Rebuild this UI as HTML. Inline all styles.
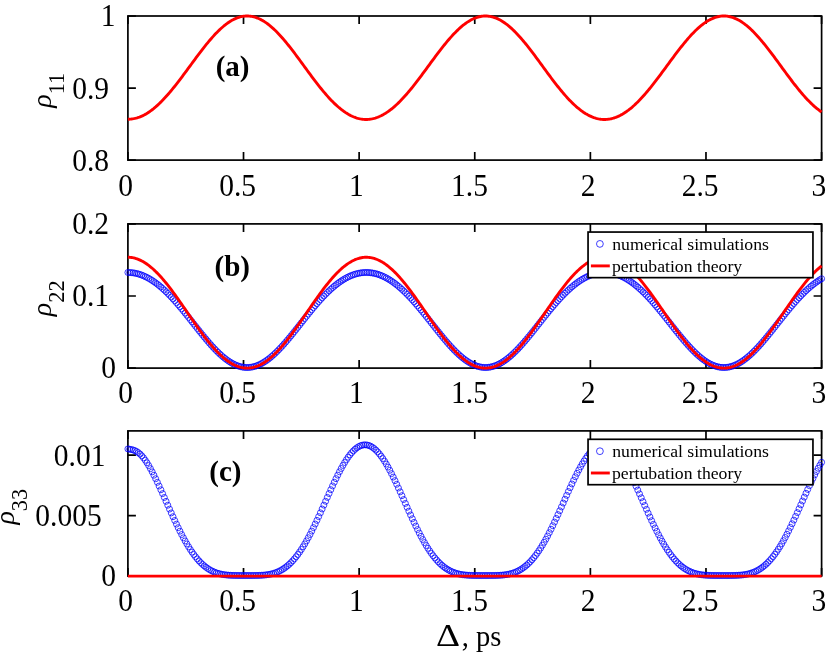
<!DOCTYPE html><html><head><meta charset="utf-8"><style>html,body{margin:0;padding:0;background:#fff;overflow:hidden}svg{display:block}</style></head><body><svg width="827" height="653" viewBox="0 0 827 653">
<rect width="827" height="653" fill="#fff"/>
<rect x="127.9" y="16.0" width="693.70" height="144.10" fill="none" stroke="#000" stroke-width="1.7"/>
<path d="M127.90 160.1v-8.0M127.90 16.0v8.0M243.52 160.1v-8.0M243.52 16.0v8.0M359.13 160.1v-8.0M359.13 16.0v8.0M474.75 160.1v-8.0M474.75 16.0v8.0M590.37 160.1v-8.0M590.37 16.0v8.0M705.98 160.1v-8.0M705.98 16.0v8.0M821.60 160.1v-8.0M821.60 16.0v8.0M127.9 160.10h8.0M821.6 160.10h-8.0M127.9 88.05h8.0M821.6 88.05h-8.0M127.9 16.00h8.0M821.6 16.00h-8.0" stroke="#000" stroke-width="1.7" fill="none"/>
<rect x="127.9" y="223.9" width="693.70" height="144.20" fill="none" stroke="#000" stroke-width="1.7"/>
<path d="M127.90 368.1v-8.0M127.90 223.9v8.0M243.52 368.1v-8.0M243.52 223.9v8.0M359.13 368.1v-8.0M359.13 223.9v8.0M474.75 368.1v-8.0M474.75 223.9v8.0M590.37 368.1v-8.0M590.37 223.9v8.0M705.98 368.1v-8.0M705.98 223.9v8.0M821.60 368.1v-8.0M821.60 223.9v8.0M127.9 368.10h8.0M821.6 368.10h-8.0M127.9 296.00h8.0M821.6 296.00h-8.0M127.9 223.90h8.0M821.6 223.90h-8.0" stroke="#000" stroke-width="1.7" fill="none"/>
<rect x="127.9" y="430.9" width="693.70" height="145.20" fill="none" stroke="#000" stroke-width="1.7"/>
<path d="M127.90 576.1v-8.0M127.90 430.9v8.0M243.52 576.1v-8.0M243.52 430.9v8.0M359.13 576.1v-8.0M359.13 430.9v8.0M474.75 576.1v-8.0M474.75 430.9v8.0M590.37 576.1v-8.0M590.37 430.9v8.0M705.98 576.1v-8.0M705.98 430.9v8.0M821.60 576.1v-8.0M821.60 430.9v8.0M127.9 576.10h8.0M821.6 576.10h-8.0M127.9 515.60h8.0M821.6 515.60h-8.0M127.9 455.10h8.0M821.6 455.10h-8.0" stroke="#000" stroke-width="1.7" fill="none"/>
<polyline points="127.90,119.22 129.06,119.19 130.21,119.12 131.37,119.02 132.52,118.87 133.68,118.68 134.84,118.45 135.99,118.17 137.15,117.85 138.31,117.49 139.46,117.08 140.62,116.63 141.77,116.13 142.93,115.59 144.09,115.00 145.24,114.37 146.40,113.70 147.55,112.99 148.71,112.23 149.87,111.44 151.02,110.60 152.18,109.73 153.34,108.82 154.49,107.87 155.65,106.89 156.80,105.87 157.96,104.82 159.12,103.73 160.27,102.62 161.43,101.47 162.59,100.28 163.74,99.07 164.90,97.83 166.05,96.57 167.21,95.27 168.37,93.95 169.52,92.61 170.68,91.24 171.83,89.85 172.99,88.43 174.15,87.00 175.30,85.55 176.46,84.08 177.62,82.60 178.77,81.10 179.93,79.58 181.08,78.06 182.24,76.52 183.40,74.97 184.55,73.42 185.71,71.85 186.86,70.28 188.02,68.71 189.18,67.14 190.33,65.56 191.49,63.99 192.65,62.41 193.80,60.84 194.96,59.28 196.11,57.72 197.27,56.17 198.43,54.62 199.58,53.09 200.74,51.57 201.89,50.07 203.05,48.58 204.21,47.10 205.36,45.65 206.52,44.21 207.68,42.80 208.83,41.41 209.99,40.04 211.14,38.70 212.30,37.38 213.46,36.10 214.61,34.84 215.77,33.61 216.92,32.42 218.08,31.26 219.24,30.13 220.39,29.04 221.55,27.98 222.71,26.97 223.86,25.99 225.02,25.06 226.17,24.16 227.33,23.31 228.49,22.50 229.64,21.73 230.80,21.01 231.96,20.34 233.11,19.71 234.27,19.13 235.42,18.60 236.58,18.11 237.74,17.68 238.89,17.29 240.05,16.95 241.20,16.67 242.36,16.43 243.52,16.25 244.67,16.11 245.83,16.03 246.99,16.00 248.14,16.02 249.30,16.09 250.45,16.22 251.61,16.39 252.77,16.62 253.92,16.89 255.08,17.22 256.23,17.60 257.39,18.02 258.55,18.50 259.70,19.02 260.86,19.60 262.02,20.22 263.17,20.88 264.33,21.60 265.48,22.36 266.64,23.16 267.80,24.01 268.95,24.90 270.11,25.83 271.26,26.80 272.42,27.81 273.58,28.86 274.73,29.95 275.89,31.08 277.05,32.24 278.20,33.43 279.36,34.66 280.51,35.92 281.67,37.20 282.83,38.52 283.98,39.87 285.14,41.24 286.29,42.63 287.45,44.05 288.61,45.49 289.76,46.95 290.92,48.43 292.08,49.92 293.23,51.43 294.39,52.96 295.54,54.50 296.70,56.05 297.86,57.61 299.01,59.17 300.17,60.75 301.33,62.32 302.48,63.91 303.64,65.49 304.79,67.07 305.95,68.66 307.11,70.24 308.26,71.82 309.42,73.39 310.57,74.95 311.73,76.51 312.89,78.05 314.04,79.59 315.20,81.11 316.36,82.62 317.51,84.11 318.67,85.59 319.82,87.05 320.98,88.49 322.14,89.91 323.29,91.30 324.45,92.68 325.60,94.03 326.76,95.35 327.92,96.65 329.07,97.93 330.23,99.17 331.39,100.38 332.54,101.57 333.70,102.72 334.85,103.84 336.01,104.93 337.17,105.98 338.32,107.00 339.48,107.98 340.63,108.93 341.79,109.84 342.95,110.71 344.10,111.55 345.26,112.34 346.42,113.10 347.57,113.81 348.73,114.49 349.88,115.12 351.04,115.71 352.20,116.26 353.35,116.77 354.51,117.23 355.66,117.65 356.82,118.03 357.98,118.36 359.13,118.65 360.29,118.90 361.45,119.10 362.60,119.26 363.76,119.37 364.91,119.44 366.07,119.46 367.23,119.44 368.38,119.37 369.54,119.26 370.70,119.11 371.85,118.91 373.01,118.66 374.16,118.38 375.32,118.04 376.48,117.67 377.63,117.25 378.79,116.79 379.94,116.29 381.10,115.74 382.26,115.15 383.41,114.52 384.57,113.85 385.73,113.14 386.88,112.39 388.04,111.60 389.19,110.78 390.35,109.91 391.51,109.01 392.66,108.07 393.82,107.09 394.97,106.08 396.13,105.03 397.29,103.95 398.44,102.84 399.60,101.70 400.76,100.52 401.91,99.32 403.07,98.08 404.22,96.82 405.38,95.53 406.54,94.22 407.69,92.88 408.85,91.51 410.00,90.13 411.16,88.72 412.32,87.29 413.47,85.84 414.63,84.38 415.79,82.89 416.94,81.40 418.10,79.89 419.25,78.36 420.41,76.83 421.57,75.28 422.72,73.73 423.88,72.17 425.03,70.60 426.19,69.03 427.35,67.45 428.50,65.88 429.66,64.30 430.82,62.73 431.97,61.16 433.13,59.59 434.28,58.03 435.44,56.48 436.60,54.93 437.75,53.40 438.91,51.88 440.07,50.37 441.22,48.88 442.38,47.40 443.53,45.94 444.69,44.50 445.85,43.08 447.00,41.68 448.16,40.31 449.31,38.96 450.47,37.64 451.63,36.35 452.78,35.09 453.94,33.85 455.10,32.65 456.25,31.48 457.41,30.35 458.56,29.25 459.72,28.19 460.88,27.17 462.03,26.18 463.19,25.24 464.34,24.34 465.50,23.48 466.66,22.66 467.81,21.88 468.97,21.15 470.13,20.47 471.28,19.83 472.44,19.24 473.59,18.70 474.75,18.20 475.91,17.76 477.06,17.36 478.22,17.02 479.37,16.72 480.53,16.47 481.69,16.28 482.84,16.14 484.00,16.04 485.16,16.00 486.31,16.01 487.47,16.07 488.62,16.19 489.78,16.35 490.94,16.57 492.09,16.83 493.25,17.15 494.40,17.52 495.56,17.93 496.72,18.40 497.87,18.91 499.03,19.48 500.19,20.09 501.34,20.75 502.50,21.45 503.65,22.20 504.81,23.00 505.97,23.83 507.12,24.72 508.28,25.64 509.44,26.60 510.59,27.61 511.75,28.65 512.90,29.73 514.06,30.85 515.22,32.00 516.37,33.19 517.53,34.41 518.68,35.66 519.84,36.94 521.00,38.26 522.15,39.60 523.31,40.96 524.47,42.35 525.62,43.76 526.78,45.20 527.93,46.66 529.09,48.13 530.25,49.62 531.40,51.13 532.56,52.65 533.71,54.19 534.87,55.74 536.03,57.29 537.18,58.86 538.34,60.43 539.50,62.01 540.65,63.59 541.81,65.17 542.96,66.76 544.12,68.34 545.28,69.92 546.43,71.50 547.59,73.07 548.74,74.64 549.90,76.20 551.06,77.75 552.21,79.28 553.37,80.81 554.53,82.32 555.68,83.81 556.84,85.29 557.99,86.76 559.15,88.20 560.31,89.62 561.46,91.03 562.62,92.40 563.77,93.76 564.93,95.09 566.09,96.40 567.24,97.67 568.40,98.92 569.56,100.14 570.71,101.33 571.87,102.49 573.02,103.62 574.18,104.71 575.34,105.77 576.49,106.80 577.65,107.79 578.81,108.74 579.96,109.66 581.12,110.54 582.27,111.38 583.43,112.19 584.59,112.95 585.74,113.67 586.90,114.35 588.05,115.00 589.21,115.60 590.37,116.15 591.52,116.67 592.68,117.14 593.84,117.57 594.99,117.96 596.15,118.30 597.30,118.60 598.46,118.85 599.62,119.06 600.77,119.23 601.93,119.35 603.08,119.43 604.24,119.46 605.40,119.45 606.55,119.39 607.71,119.29 608.87,119.14 610.02,118.95 611.18,118.72 612.33,118.44 613.49,118.11 614.65,117.75 615.80,117.34 616.96,116.89 618.11,116.39 619.27,115.85 620.43,115.27 621.58,114.65 622.74,113.99 623.90,113.29 625.05,112.55 626.21,111.77 627.36,110.94 628.52,110.09 629.68,109.19 630.83,108.26 631.99,107.29 633.14,106.28 634.30,105.25 635.46,104.17 636.61,103.07 637.77,101.93 638.93,100.76 640.08,99.56 641.24,98.33 642.39,97.08 643.55,95.79 644.71,94.48 645.86,93.15 647.02,91.79 648.17,90.41 649.33,89.00 650.49,87.58 651.64,86.13 652.80,84.67 653.96,83.19 655.11,81.70 656.27,80.19 657.42,78.67 658.58,77.13 659.74,75.59 660.89,74.04 662.05,72.48 663.21,70.91 664.36,69.34 665.52,67.77 666.67,66.19 667.83,64.62 668.99,63.04 670.14,61.47 671.30,59.90 672.45,58.34 673.61,56.79 674.77,55.24 675.92,53.70 677.08,52.18 678.24,50.67 679.39,49.17 680.55,47.69 681.70,46.23 682.86,44.79 684.02,43.36 685.17,41.96 686.33,40.58 687.48,39.23 688.64,37.91 689.80,36.61 690.95,35.34 692.11,34.10 693.27,32.89 694.42,31.72 695.58,30.58 696.73,29.47 697.89,28.40 699.05,27.37 700.20,26.38 701.36,25.43 702.51,24.51 703.67,23.64 704.83,22.82 705.98,22.03 707.14,21.30 708.30,20.60 709.45,19.96 710.61,19.36 711.76,18.80 712.92,18.30 714.08,17.84 715.23,17.44 716.39,17.08 717.54,16.78 718.70,16.52 719.86,16.31 721.01,16.16 722.17,16.06 723.33,16.01 724.48,16.01 725.64,16.06 726.79,16.16 727.95,16.31 729.11,16.52 730.26,16.78 731.42,17.08 732.58,17.44 733.73,17.85 734.89,18.30 736.04,18.81 737.20,19.36 738.36,19.96 739.51,20.61 740.67,21.31 741.82,22.05 742.98,22.83 744.14,23.66 745.29,24.54 746.45,25.45 747.61,26.41 748.76,27.40 749.92,28.44 751.07,29.51 752.23,30.62 753.39,31.77 754.54,32.95 755.70,34.16 756.85,35.41 758.01,36.69 759.17,37.99 760.32,39.33 761.48,40.69 762.64,42.07 763.79,43.48 764.95,44.91 766.10,46.36 767.26,47.83 768.42,49.32 769.57,50.83 770.73,52.35 771.88,53.88 773.04,55.43 774.20,56.98 775.35,58.55 776.51,60.12 777.67,61.69 778.82,63.27 779.98,64.86 781.13,66.44 782.29,68.03 783.45,69.61 784.60,71.19 785.76,72.76 786.92,74.33 788.07,75.89 789.23,77.44 790.38,78.98 791.54,80.50 792.70,82.02 793.85,83.52 795.01,85.00 796.16,86.47 797.32,87.91 798.48,89.34 799.63,90.75 800.79,92.13 801.95,93.49 803.10,94.83 804.26,96.14 805.41,97.42 806.57,98.67 807.73,99.90 808.88,101.10 810.04,102.26 811.19,103.40 812.35,104.50 813.51,105.56 814.66,106.60 815.82,107.59 816.98,108.56 818.13,109.48 819.29,110.37 820.44,111.22 821.60,112.03" fill="none" stroke="#f00" stroke-width="2.9" stroke-linejoin="round"/>
<path d="M130.90 272.47a3.0 3.0 0 1 0 -6.0 0a3.0 3.0 0 1 0 6.0 0M132.63 272.51a3.0 3.0 0 1 0 -6.0 0a3.0 3.0 0 1 0 6.0 0M134.37 272.64a3.0 3.0 0 1 0 -6.0 0a3.0 3.0 0 1 0 6.0 0M136.10 272.84a3.0 3.0 0 1 0 -6.0 0a3.0 3.0 0 1 0 6.0 0M137.84 273.13a3.0 3.0 0 1 0 -6.0 0a3.0 3.0 0 1 0 6.0 0M139.57 273.50a3.0 3.0 0 1 0 -6.0 0a3.0 3.0 0 1 0 6.0 0M141.31 273.96a3.0 3.0 0 1 0 -6.0 0a3.0 3.0 0 1 0 6.0 0M143.04 274.49a3.0 3.0 0 1 0 -6.0 0a3.0 3.0 0 1 0 6.0 0M144.77 275.11a3.0 3.0 0 1 0 -6.0 0a3.0 3.0 0 1 0 6.0 0M146.51 275.80a3.0 3.0 0 1 0 -6.0 0a3.0 3.0 0 1 0 6.0 0M148.24 276.58a3.0 3.0 0 1 0 -6.0 0a3.0 3.0 0 1 0 6.0 0M149.98 277.44a3.0 3.0 0 1 0 -6.0 0a3.0 3.0 0 1 0 6.0 0M151.71 278.37a3.0 3.0 0 1 0 -6.0 0a3.0 3.0 0 1 0 6.0 0M153.45 279.38a3.0 3.0 0 1 0 -6.0 0a3.0 3.0 0 1 0 6.0 0M155.18 280.47a3.0 3.0 0 1 0 -6.0 0a3.0 3.0 0 1 0 6.0 0M156.91 281.63a3.0 3.0 0 1 0 -6.0 0a3.0 3.0 0 1 0 6.0 0M158.65 282.86a3.0 3.0 0 1 0 -6.0 0a3.0 3.0 0 1 0 6.0 0M160.38 284.17a3.0 3.0 0 1 0 -6.0 0a3.0 3.0 0 1 0 6.0 0M162.12 285.54a3.0 3.0 0 1 0 -6.0 0a3.0 3.0 0 1 0 6.0 0M163.85 286.99a3.0 3.0 0 1 0 -6.0 0a3.0 3.0 0 1 0 6.0 0M165.59 288.50a3.0 3.0 0 1 0 -6.0 0a3.0 3.0 0 1 0 6.0 0M167.32 290.08a3.0 3.0 0 1 0 -6.0 0a3.0 3.0 0 1 0 6.0 0M169.05 291.72a3.0 3.0 0 1 0 -6.0 0a3.0 3.0 0 1 0 6.0 0M170.79 293.42a3.0 3.0 0 1 0 -6.0 0a3.0 3.0 0 1 0 6.0 0M172.52 295.18a3.0 3.0 0 1 0 -6.0 0a3.0 3.0 0 1 0 6.0 0M174.26 296.99a3.0 3.0 0 1 0 -6.0 0a3.0 3.0 0 1 0 6.0 0M175.99 298.86a3.0 3.0 0 1 0 -6.0 0a3.0 3.0 0 1 0 6.0 0M177.72 300.77a3.0 3.0 0 1 0 -6.0 0a3.0 3.0 0 1 0 6.0 0M179.46 302.73a3.0 3.0 0 1 0 -6.0 0a3.0 3.0 0 1 0 6.0 0M181.19 304.73a3.0 3.0 0 1 0 -6.0 0a3.0 3.0 0 1 0 6.0 0M182.93 306.77a3.0 3.0 0 1 0 -6.0 0a3.0 3.0 0 1 0 6.0 0M184.66 308.85a3.0 3.0 0 1 0 -6.0 0a3.0 3.0 0 1 0 6.0 0M186.40 310.95a3.0 3.0 0 1 0 -6.0 0a3.0 3.0 0 1 0 6.0 0M188.13 313.09a3.0 3.0 0 1 0 -6.0 0a3.0 3.0 0 1 0 6.0 0M189.86 315.24a3.0 3.0 0 1 0 -6.0 0a3.0 3.0 0 1 0 6.0 0M191.60 317.42a3.0 3.0 0 1 0 -6.0 0a3.0 3.0 0 1 0 6.0 0M193.33 319.60a3.0 3.0 0 1 0 -6.0 0a3.0 3.0 0 1 0 6.0 0M195.07 321.80a3.0 3.0 0 1 0 -6.0 0a3.0 3.0 0 1 0 6.0 0M196.80 324.00a3.0 3.0 0 1 0 -6.0 0a3.0 3.0 0 1 0 6.0 0M198.54 326.20a3.0 3.0 0 1 0 -6.0 0a3.0 3.0 0 1 0 6.0 0M200.27 328.39a3.0 3.0 0 1 0 -6.0 0a3.0 3.0 0 1 0 6.0 0M202.00 330.58a3.0 3.0 0 1 0 -6.0 0a3.0 3.0 0 1 0 6.0 0M203.74 332.74a3.0 3.0 0 1 0 -6.0 0a3.0 3.0 0 1 0 6.0 0M205.47 334.89a3.0 3.0 0 1 0 -6.0 0a3.0 3.0 0 1 0 6.0 0M207.21 337.01a3.0 3.0 0 1 0 -6.0 0a3.0 3.0 0 1 0 6.0 0M208.94 339.09a3.0 3.0 0 1 0 -6.0 0a3.0 3.0 0 1 0 6.0 0M210.68 341.14a3.0 3.0 0 1 0 -6.0 0a3.0 3.0 0 1 0 6.0 0M212.41 343.15a3.0 3.0 0 1 0 -6.0 0a3.0 3.0 0 1 0 6.0 0M214.14 345.11a3.0 3.0 0 1 0 -6.0 0a3.0 3.0 0 1 0 6.0 0M215.88 347.02a3.0 3.0 0 1 0 -6.0 0a3.0 3.0 0 1 0 6.0 0M217.61 348.87a3.0 3.0 0 1 0 -6.0 0a3.0 3.0 0 1 0 6.0 0M219.35 350.66a3.0 3.0 0 1 0 -6.0 0a3.0 3.0 0 1 0 6.0 0M221.08 352.37a3.0 3.0 0 1 0 -6.0 0a3.0 3.0 0 1 0 6.0 0M222.82 354.02a3.0 3.0 0 1 0 -6.0 0a3.0 3.0 0 1 0 6.0 0M224.55 355.59a3.0 3.0 0 1 0 -6.0 0a3.0 3.0 0 1 0 6.0 0M226.28 357.08a3.0 3.0 0 1 0 -6.0 0a3.0 3.0 0 1 0 6.0 0M228.02 358.48a3.0 3.0 0 1 0 -6.0 0a3.0 3.0 0 1 0 6.0 0M229.75 359.80a3.0 3.0 0 1 0 -6.0 0a3.0 3.0 0 1 0 6.0 0M231.49 361.02a3.0 3.0 0 1 0 -6.0 0a3.0 3.0 0 1 0 6.0 0M233.22 362.14a3.0 3.0 0 1 0 -6.0 0a3.0 3.0 0 1 0 6.0 0M234.96 363.17a3.0 3.0 0 1 0 -6.0 0a3.0 3.0 0 1 0 6.0 0M236.69 364.09a3.0 3.0 0 1 0 -6.0 0a3.0 3.0 0 1 0 6.0 0M238.42 364.91a3.0 3.0 0 1 0 -6.0 0a3.0 3.0 0 1 0 6.0 0M240.16 365.61a3.0 3.0 0 1 0 -6.0 0a3.0 3.0 0 1 0 6.0 0M241.89 366.21a3.0 3.0 0 1 0 -6.0 0a3.0 3.0 0 1 0 6.0 0M243.63 366.70a3.0 3.0 0 1 0 -6.0 0a3.0 3.0 0 1 0 6.0 0M245.36 367.07a3.0 3.0 0 1 0 -6.0 0a3.0 3.0 0 1 0 6.0 0M247.09 367.33a3.0 3.0 0 1 0 -6.0 0a3.0 3.0 0 1 0 6.0 0M248.83 367.47a3.0 3.0 0 1 0 -6.0 0a3.0 3.0 0 1 0 6.0 0M250.56 367.50a3.0 3.0 0 1 0 -6.0 0a3.0 3.0 0 1 0 6.0 0M252.30 367.41a3.0 3.0 0 1 0 -6.0 0a3.0 3.0 0 1 0 6.0 0M254.03 367.20a3.0 3.0 0 1 0 -6.0 0a3.0 3.0 0 1 0 6.0 0M255.77 366.88a3.0 3.0 0 1 0 -6.0 0a3.0 3.0 0 1 0 6.0 0M257.50 366.45a3.0 3.0 0 1 0 -6.0 0a3.0 3.0 0 1 0 6.0 0M259.23 365.91a3.0 3.0 0 1 0 -6.0 0a3.0 3.0 0 1 0 6.0 0M260.97 365.25a3.0 3.0 0 1 0 -6.0 0a3.0 3.0 0 1 0 6.0 0M262.70 364.48a3.0 3.0 0 1 0 -6.0 0a3.0 3.0 0 1 0 6.0 0M264.44 363.61a3.0 3.0 0 1 0 -6.0 0a3.0 3.0 0 1 0 6.0 0M266.17 362.63a3.0 3.0 0 1 0 -6.0 0a3.0 3.0 0 1 0 6.0 0M267.91 361.56a3.0 3.0 0 1 0 -6.0 0a3.0 3.0 0 1 0 6.0 0M269.64 360.38a3.0 3.0 0 1 0 -6.0 0a3.0 3.0 0 1 0 6.0 0M271.37 359.11a3.0 3.0 0 1 0 -6.0 0a3.0 3.0 0 1 0 6.0 0M273.11 357.75a3.0 3.0 0 1 0 -6.0 0a3.0 3.0 0 1 0 6.0 0M274.84 356.30a3.0 3.0 0 1 0 -6.0 0a3.0 3.0 0 1 0 6.0 0M276.58 354.76a3.0 3.0 0 1 0 -6.0 0a3.0 3.0 0 1 0 6.0 0M278.31 353.15a3.0 3.0 0 1 0 -6.0 0a3.0 3.0 0 1 0 6.0 0M280.05 351.47a3.0 3.0 0 1 0 -6.0 0a3.0 3.0 0 1 0 6.0 0M281.78 349.71a3.0 3.0 0 1 0 -6.0 0a3.0 3.0 0 1 0 6.0 0M283.51 347.89a3.0 3.0 0 1 0 -6.0 0a3.0 3.0 0 1 0 6.0 0M285.25 346.01a3.0 3.0 0 1 0 -6.0 0a3.0 3.0 0 1 0 6.0 0M286.98 344.07a3.0 3.0 0 1 0 -6.0 0a3.0 3.0 0 1 0 6.0 0M288.72 342.09a3.0 3.0 0 1 0 -6.0 0a3.0 3.0 0 1 0 6.0 0M290.45 340.06a3.0 3.0 0 1 0 -6.0 0a3.0 3.0 0 1 0 6.0 0M292.19 337.99a3.0 3.0 0 1 0 -6.0 0a3.0 3.0 0 1 0 6.0 0M293.92 335.88a3.0 3.0 0 1 0 -6.0 0a3.0 3.0 0 1 0 6.0 0M295.65 333.75a3.0 3.0 0 1 0 -6.0 0a3.0 3.0 0 1 0 6.0 0M297.39 331.59a3.0 3.0 0 1 0 -6.0 0a3.0 3.0 0 1 0 6.0 0M299.12 329.41a3.0 3.0 0 1 0 -6.0 0a3.0 3.0 0 1 0 6.0 0M300.86 327.22a3.0 3.0 0 1 0 -6.0 0a3.0 3.0 0 1 0 6.0 0M302.59 325.03a3.0 3.0 0 1 0 -6.0 0a3.0 3.0 0 1 0 6.0 0M304.33 322.83a3.0 3.0 0 1 0 -6.0 0a3.0 3.0 0 1 0 6.0 0M306.06 320.63a3.0 3.0 0 1 0 -6.0 0a3.0 3.0 0 1 0 6.0 0M307.79 318.44a3.0 3.0 0 1 0 -6.0 0a3.0 3.0 0 1 0 6.0 0M309.53 316.26a3.0 3.0 0 1 0 -6.0 0a3.0 3.0 0 1 0 6.0 0M311.26 314.09a3.0 3.0 0 1 0 -6.0 0a3.0 3.0 0 1 0 6.0 0M313.00 311.95a3.0 3.0 0 1 0 -6.0 0a3.0 3.0 0 1 0 6.0 0M314.73 309.83a3.0 3.0 0 1 0 -6.0 0a3.0 3.0 0 1 0 6.0 0M316.46 307.74a3.0 3.0 0 1 0 -6.0 0a3.0 3.0 0 1 0 6.0 0M318.20 305.68a3.0 3.0 0 1 0 -6.0 0a3.0 3.0 0 1 0 6.0 0M319.93 303.66a3.0 3.0 0 1 0 -6.0 0a3.0 3.0 0 1 0 6.0 0M321.67 301.68a3.0 3.0 0 1 0 -6.0 0a3.0 3.0 0 1 0 6.0 0M323.40 299.75a3.0 3.0 0 1 0 -6.0 0a3.0 3.0 0 1 0 6.0 0M325.14 297.86a3.0 3.0 0 1 0 -6.0 0a3.0 3.0 0 1 0 6.0 0M326.87 296.02a3.0 3.0 0 1 0 -6.0 0a3.0 3.0 0 1 0 6.0 0M328.60 294.24a3.0 3.0 0 1 0 -6.0 0a3.0 3.0 0 1 0 6.0 0M330.34 292.51a3.0 3.0 0 1 0 -6.0 0a3.0 3.0 0 1 0 6.0 0M332.07 290.84a3.0 3.0 0 1 0 -6.0 0a3.0 3.0 0 1 0 6.0 0M333.81 289.23a3.0 3.0 0 1 0 -6.0 0a3.0 3.0 0 1 0 6.0 0M335.54 287.69a3.0 3.0 0 1 0 -6.0 0a3.0 3.0 0 1 0 6.0 0M337.28 286.21a3.0 3.0 0 1 0 -6.0 0a3.0 3.0 0 1 0 6.0 0M339.01 284.80a3.0 3.0 0 1 0 -6.0 0a3.0 3.0 0 1 0 6.0 0M340.74 283.46a3.0 3.0 0 1 0 -6.0 0a3.0 3.0 0 1 0 6.0 0M342.48 282.19a3.0 3.0 0 1 0 -6.0 0a3.0 3.0 0 1 0 6.0 0M344.21 281.00a3.0 3.0 0 1 0 -6.0 0a3.0 3.0 0 1 0 6.0 0M345.95 279.88a3.0 3.0 0 1 0 -6.0 0a3.0 3.0 0 1 0 6.0 0M347.68 278.83a3.0 3.0 0 1 0 -6.0 0a3.0 3.0 0 1 0 6.0 0M349.42 277.86a3.0 3.0 0 1 0 -6.0 0a3.0 3.0 0 1 0 6.0 0M351.15 276.97a3.0 3.0 0 1 0 -6.0 0a3.0 3.0 0 1 0 6.0 0M352.88 276.16a3.0 3.0 0 1 0 -6.0 0a3.0 3.0 0 1 0 6.0 0M354.62 275.42a3.0 3.0 0 1 0 -6.0 0a3.0 3.0 0 1 0 6.0 0M356.35 274.77a3.0 3.0 0 1 0 -6.0 0a3.0 3.0 0 1 0 6.0 0M358.09 274.20a3.0 3.0 0 1 0 -6.0 0a3.0 3.0 0 1 0 6.0 0M359.82 273.71a3.0 3.0 0 1 0 -6.0 0a3.0 3.0 0 1 0 6.0 0M361.56 273.30a3.0 3.0 0 1 0 -6.0 0a3.0 3.0 0 1 0 6.0 0M363.29 272.97a3.0 3.0 0 1 0 -6.0 0a3.0 3.0 0 1 0 6.0 0M365.02 272.72a3.0 3.0 0 1 0 -6.0 0a3.0 3.0 0 1 0 6.0 0M366.76 272.56a3.0 3.0 0 1 0 -6.0 0a3.0 3.0 0 1 0 6.0 0M368.49 272.48a3.0 3.0 0 1 0 -6.0 0a3.0 3.0 0 1 0 6.0 0M370.23 272.48a3.0 3.0 0 1 0 -6.0 0a3.0 3.0 0 1 0 6.0 0M371.96 272.57a3.0 3.0 0 1 0 -6.0 0a3.0 3.0 0 1 0 6.0 0M373.70 272.74a3.0 3.0 0 1 0 -6.0 0a3.0 3.0 0 1 0 6.0 0M375.43 272.99a3.0 3.0 0 1 0 -6.0 0a3.0 3.0 0 1 0 6.0 0M377.16 273.32a3.0 3.0 0 1 0 -6.0 0a3.0 3.0 0 1 0 6.0 0M378.90 273.74a3.0 3.0 0 1 0 -6.0 0a3.0 3.0 0 1 0 6.0 0M380.63 274.23a3.0 3.0 0 1 0 -6.0 0a3.0 3.0 0 1 0 6.0 0M382.37 274.81a3.0 3.0 0 1 0 -6.0 0a3.0 3.0 0 1 0 6.0 0M384.10 275.47a3.0 3.0 0 1 0 -6.0 0a3.0 3.0 0 1 0 6.0 0M385.83 276.21a3.0 3.0 0 1 0 -6.0 0a3.0 3.0 0 1 0 6.0 0M387.57 277.03a3.0 3.0 0 1 0 -6.0 0a3.0 3.0 0 1 0 6.0 0M389.30 277.92a3.0 3.0 0 1 0 -6.0 0a3.0 3.0 0 1 0 6.0 0M391.04 278.90a3.0 3.0 0 1 0 -6.0 0a3.0 3.0 0 1 0 6.0 0M392.77 279.95a3.0 3.0 0 1 0 -6.0 0a3.0 3.0 0 1 0 6.0 0M394.51 281.08a3.0 3.0 0 1 0 -6.0 0a3.0 3.0 0 1 0 6.0 0M396.24 282.28a3.0 3.0 0 1 0 -6.0 0a3.0 3.0 0 1 0 6.0 0M397.97 283.55a3.0 3.0 0 1 0 -6.0 0a3.0 3.0 0 1 0 6.0 0M399.71 284.89a3.0 3.0 0 1 0 -6.0 0a3.0 3.0 0 1 0 6.0 0M401.44 286.31a3.0 3.0 0 1 0 -6.0 0a3.0 3.0 0 1 0 6.0 0M403.18 287.79a3.0 3.0 0 1 0 -6.0 0a3.0 3.0 0 1 0 6.0 0M404.91 289.34a3.0 3.0 0 1 0 -6.0 0a3.0 3.0 0 1 0 6.0 0M406.65 290.95a3.0 3.0 0 1 0 -6.0 0a3.0 3.0 0 1 0 6.0 0M408.38 292.62a3.0 3.0 0 1 0 -6.0 0a3.0 3.0 0 1 0 6.0 0M410.11 294.35a3.0 3.0 0 1 0 -6.0 0a3.0 3.0 0 1 0 6.0 0M411.85 296.14a3.0 3.0 0 1 0 -6.0 0a3.0 3.0 0 1 0 6.0 0M413.58 297.98a3.0 3.0 0 1 0 -6.0 0a3.0 3.0 0 1 0 6.0 0M415.32 299.87a3.0 3.0 0 1 0 -6.0 0a3.0 3.0 0 1 0 6.0 0M417.05 301.81a3.0 3.0 0 1 0 -6.0 0a3.0 3.0 0 1 0 6.0 0M418.79 303.79a3.0 3.0 0 1 0 -6.0 0a3.0 3.0 0 1 0 6.0 0M420.52 305.82a3.0 3.0 0 1 0 -6.0 0a3.0 3.0 0 1 0 6.0 0M422.25 307.88a3.0 3.0 0 1 0 -6.0 0a3.0 3.0 0 1 0 6.0 0M423.99 309.97a3.0 3.0 0 1 0 -6.0 0a3.0 3.0 0 1 0 6.0 0M425.72 312.09a3.0 3.0 0 1 0 -6.0 0a3.0 3.0 0 1 0 6.0 0M427.46 314.24a3.0 3.0 0 1 0 -6.0 0a3.0 3.0 0 1 0 6.0 0M429.19 316.40a3.0 3.0 0 1 0 -6.0 0a3.0 3.0 0 1 0 6.0 0M430.93 318.58a3.0 3.0 0 1 0 -6.0 0a3.0 3.0 0 1 0 6.0 0M432.66 320.77a3.0 3.0 0 1 0 -6.0 0a3.0 3.0 0 1 0 6.0 0M434.39 322.97a3.0 3.0 0 1 0 -6.0 0a3.0 3.0 0 1 0 6.0 0M436.13 325.17a3.0 3.0 0 1 0 -6.0 0a3.0 3.0 0 1 0 6.0 0M437.86 327.37a3.0 3.0 0 1 0 -6.0 0a3.0 3.0 0 1 0 6.0 0M439.60 329.56a3.0 3.0 0 1 0 -6.0 0a3.0 3.0 0 1 0 6.0 0M441.33 331.73a3.0 3.0 0 1 0 -6.0 0a3.0 3.0 0 1 0 6.0 0M443.07 333.89a3.0 3.0 0 1 0 -6.0 0a3.0 3.0 0 1 0 6.0 0M444.80 336.02a3.0 3.0 0 1 0 -6.0 0a3.0 3.0 0 1 0 6.0 0M446.53 338.12a3.0 3.0 0 1 0 -6.0 0a3.0 3.0 0 1 0 6.0 0M448.27 340.19a3.0 3.0 0 1 0 -6.0 0a3.0 3.0 0 1 0 6.0 0M450.00 342.22a3.0 3.0 0 1 0 -6.0 0a3.0 3.0 0 1 0 6.0 0M451.74 344.20a3.0 3.0 0 1 0 -6.0 0a3.0 3.0 0 1 0 6.0 0M453.47 346.14a3.0 3.0 0 1 0 -6.0 0a3.0 3.0 0 1 0 6.0 0M455.20 348.01a3.0 3.0 0 1 0 -6.0 0a3.0 3.0 0 1 0 6.0 0M456.94 349.83a3.0 3.0 0 1 0 -6.0 0a3.0 3.0 0 1 0 6.0 0M458.67 351.58a3.0 3.0 0 1 0 -6.0 0a3.0 3.0 0 1 0 6.0 0M460.41 353.26a3.0 3.0 0 1 0 -6.0 0a3.0 3.0 0 1 0 6.0 0M462.14 354.87a3.0 3.0 0 1 0 -6.0 0a3.0 3.0 0 1 0 6.0 0M463.88 356.40a3.0 3.0 0 1 0 -6.0 0a3.0 3.0 0 1 0 6.0 0M465.61 357.84a3.0 3.0 0 1 0 -6.0 0a3.0 3.0 0 1 0 6.0 0M467.34 359.20a3.0 3.0 0 1 0 -6.0 0a3.0 3.0 0 1 0 6.0 0M469.08 360.46a3.0 3.0 0 1 0 -6.0 0a3.0 3.0 0 1 0 6.0 0M470.81 361.63a3.0 3.0 0 1 0 -6.0 0a3.0 3.0 0 1 0 6.0 0M472.55 362.70a3.0 3.0 0 1 0 -6.0 0a3.0 3.0 0 1 0 6.0 0M474.28 363.67a3.0 3.0 0 1 0 -6.0 0a3.0 3.0 0 1 0 6.0 0M476.02 364.54a3.0 3.0 0 1 0 -6.0 0a3.0 3.0 0 1 0 6.0 0M477.75 365.30a3.0 3.0 0 1 0 -6.0 0a3.0 3.0 0 1 0 6.0 0M479.48 365.95a3.0 3.0 0 1 0 -6.0 0a3.0 3.0 0 1 0 6.0 0M481.22 366.48a3.0 3.0 0 1 0 -6.0 0a3.0 3.0 0 1 0 6.0 0M482.95 366.91a3.0 3.0 0 1 0 -6.0 0a3.0 3.0 0 1 0 6.0 0M484.69 367.22a3.0 3.0 0 1 0 -6.0 0a3.0 3.0 0 1 0 6.0 0M486.42 367.42a3.0 3.0 0 1 0 -6.0 0a3.0 3.0 0 1 0 6.0 0M488.16 367.50a3.0 3.0 0 1 0 -6.0 0a3.0 3.0 0 1 0 6.0 0M489.89 367.46a3.0 3.0 0 1 0 -6.0 0a3.0 3.0 0 1 0 6.0 0M491.62 367.31a3.0 3.0 0 1 0 -6.0 0a3.0 3.0 0 1 0 6.0 0M493.36 367.05a3.0 3.0 0 1 0 -6.0 0a3.0 3.0 0 1 0 6.0 0M495.09 366.67a3.0 3.0 0 1 0 -6.0 0a3.0 3.0 0 1 0 6.0 0M496.83 366.17a3.0 3.0 0 1 0 -6.0 0a3.0 3.0 0 1 0 6.0 0M498.56 365.57a3.0 3.0 0 1 0 -6.0 0a3.0 3.0 0 1 0 6.0 0M500.30 364.85a3.0 3.0 0 1 0 -6.0 0a3.0 3.0 0 1 0 6.0 0M502.03 364.03a3.0 3.0 0 1 0 -6.0 0a3.0 3.0 0 1 0 6.0 0M503.76 363.10a3.0 3.0 0 1 0 -6.0 0a3.0 3.0 0 1 0 6.0 0M505.50 362.07a3.0 3.0 0 1 0 -6.0 0a3.0 3.0 0 1 0 6.0 0M507.23 360.94a3.0 3.0 0 1 0 -6.0 0a3.0 3.0 0 1 0 6.0 0M508.97 359.71a3.0 3.0 0 1 0 -6.0 0a3.0 3.0 0 1 0 6.0 0M510.70 358.39a3.0 3.0 0 1 0 -6.0 0a3.0 3.0 0 1 0 6.0 0M512.44 356.98a3.0 3.0 0 1 0 -6.0 0a3.0 3.0 0 1 0 6.0 0M514.17 355.49a3.0 3.0 0 1 0 -6.0 0a3.0 3.0 0 1 0 6.0 0M515.90 353.91a3.0 3.0 0 1 0 -6.0 0a3.0 3.0 0 1 0 6.0 0M517.64 352.26a3.0 3.0 0 1 0 -6.0 0a3.0 3.0 0 1 0 6.0 0M519.37 350.54a3.0 3.0 0 1 0 -6.0 0a3.0 3.0 0 1 0 6.0 0M521.11 348.75a3.0 3.0 0 1 0 -6.0 0a3.0 3.0 0 1 0 6.0 0M522.84 346.89a3.0 3.0 0 1 0 -6.0 0a3.0 3.0 0 1 0 6.0 0M524.57 344.98a3.0 3.0 0 1 0 -6.0 0a3.0 3.0 0 1 0 6.0 0M526.31 343.02a3.0 3.0 0 1 0 -6.0 0a3.0 3.0 0 1 0 6.0 0M528.04 341.01a3.0 3.0 0 1 0 -6.0 0a3.0 3.0 0 1 0 6.0 0M529.78 338.96a3.0 3.0 0 1 0 -6.0 0a3.0 3.0 0 1 0 6.0 0M531.51 336.87a3.0 3.0 0 1 0 -6.0 0a3.0 3.0 0 1 0 6.0 0M533.25 334.75a3.0 3.0 0 1 0 -6.0 0a3.0 3.0 0 1 0 6.0 0M534.98 332.60a3.0 3.0 0 1 0 -6.0 0a3.0 3.0 0 1 0 6.0 0M536.71 330.43a3.0 3.0 0 1 0 -6.0 0a3.0 3.0 0 1 0 6.0 0M538.45 328.25a3.0 3.0 0 1 0 -6.0 0a3.0 3.0 0 1 0 6.0 0M540.18 326.05a3.0 3.0 0 1 0 -6.0 0a3.0 3.0 0 1 0 6.0 0M541.92 323.85a3.0 3.0 0 1 0 -6.0 0a3.0 3.0 0 1 0 6.0 0M543.65 321.65a3.0 3.0 0 1 0 -6.0 0a3.0 3.0 0 1 0 6.0 0M545.39 319.46a3.0 3.0 0 1 0 -6.0 0a3.0 3.0 0 1 0 6.0 0M547.12 317.27a3.0 3.0 0 1 0 -6.0 0a3.0 3.0 0 1 0 6.0 0M548.85 315.10a3.0 3.0 0 1 0 -6.0 0a3.0 3.0 0 1 0 6.0 0M550.59 312.94a3.0 3.0 0 1 0 -6.0 0a3.0 3.0 0 1 0 6.0 0M552.32 310.81a3.0 3.0 0 1 0 -6.0 0a3.0 3.0 0 1 0 6.0 0M554.06 308.71a3.0 3.0 0 1 0 -6.0 0a3.0 3.0 0 1 0 6.0 0M555.79 306.64a3.0 3.0 0 1 0 -6.0 0a3.0 3.0 0 1 0 6.0 0M557.53 304.60a3.0 3.0 0 1 0 -6.0 0a3.0 3.0 0 1 0 6.0 0M559.26 302.60a3.0 3.0 0 1 0 -6.0 0a3.0 3.0 0 1 0 6.0 0M560.99 300.64a3.0 3.0 0 1 0 -6.0 0a3.0 3.0 0 1 0 6.0 0M562.73 298.73a3.0 3.0 0 1 0 -6.0 0a3.0 3.0 0 1 0 6.0 0M564.46 296.87a3.0 3.0 0 1 0 -6.0 0a3.0 3.0 0 1 0 6.0 0M566.20 295.06a3.0 3.0 0 1 0 -6.0 0a3.0 3.0 0 1 0 6.0 0M567.93 293.31a3.0 3.0 0 1 0 -6.0 0a3.0 3.0 0 1 0 6.0 0M569.67 291.61a3.0 3.0 0 1 0 -6.0 0a3.0 3.0 0 1 0 6.0 0M571.40 289.97a3.0 3.0 0 1 0 -6.0 0a3.0 3.0 0 1 0 6.0 0M573.13 288.40a3.0 3.0 0 1 0 -6.0 0a3.0 3.0 0 1 0 6.0 0M574.87 286.89a3.0 3.0 0 1 0 -6.0 0a3.0 3.0 0 1 0 6.0 0M576.60 285.45a3.0 3.0 0 1 0 -6.0 0a3.0 3.0 0 1 0 6.0 0M578.34 284.08a3.0 3.0 0 1 0 -6.0 0a3.0 3.0 0 1 0 6.0 0M580.07 282.78a3.0 3.0 0 1 0 -6.0 0a3.0 3.0 0 1 0 6.0 0M581.81 281.55a3.0 3.0 0 1 0 -6.0 0a3.0 3.0 0 1 0 6.0 0M583.54 280.39a3.0 3.0 0 1 0 -6.0 0a3.0 3.0 0 1 0 6.0 0M585.27 279.31a3.0 3.0 0 1 0 -6.0 0a3.0 3.0 0 1 0 6.0 0M587.01 278.30a3.0 3.0 0 1 0 -6.0 0a3.0 3.0 0 1 0 6.0 0M588.74 277.38a3.0 3.0 0 1 0 -6.0 0a3.0 3.0 0 1 0 6.0 0M590.48 276.53a3.0 3.0 0 1 0 -6.0 0a3.0 3.0 0 1 0 6.0 0M592.21 275.76a3.0 3.0 0 1 0 -6.0 0a3.0 3.0 0 1 0 6.0 0M593.94 275.07a3.0 3.0 0 1 0 -6.0 0a3.0 3.0 0 1 0 6.0 0M595.68 274.45a3.0 3.0 0 1 0 -6.0 0a3.0 3.0 0 1 0 6.0 0M597.41 273.93a3.0 3.0 0 1 0 -6.0 0a3.0 3.0 0 1 0 6.0 0M599.15 273.48a3.0 3.0 0 1 0 -6.0 0a3.0 3.0 0 1 0 6.0 0M600.88 273.11a3.0 3.0 0 1 0 -6.0 0a3.0 3.0 0 1 0 6.0 0M602.62 272.83a3.0 3.0 0 1 0 -6.0 0a3.0 3.0 0 1 0 6.0 0M604.35 272.63a3.0 3.0 0 1 0 -6.0 0a3.0 3.0 0 1 0 6.0 0M606.08 272.51a3.0 3.0 0 1 0 -6.0 0a3.0 3.0 0 1 0 6.0 0M607.82 272.47a3.0 3.0 0 1 0 -6.0 0a3.0 3.0 0 1 0 6.0 0M609.55 272.52a3.0 3.0 0 1 0 -6.0 0a3.0 3.0 0 1 0 6.0 0M611.29 272.65a3.0 3.0 0 1 0 -6.0 0a3.0 3.0 0 1 0 6.0 0M613.02 272.86a3.0 3.0 0 1 0 -6.0 0a3.0 3.0 0 1 0 6.0 0M614.76 273.16a3.0 3.0 0 1 0 -6.0 0a3.0 3.0 0 1 0 6.0 0M616.49 273.53a3.0 3.0 0 1 0 -6.0 0a3.0 3.0 0 1 0 6.0 0M618.22 273.99a3.0 3.0 0 1 0 -6.0 0a3.0 3.0 0 1 0 6.0 0M619.96 274.53a3.0 3.0 0 1 0 -6.0 0a3.0 3.0 0 1 0 6.0 0M621.69 275.15a3.0 3.0 0 1 0 -6.0 0a3.0 3.0 0 1 0 6.0 0M623.43 275.85a3.0 3.0 0 1 0 -6.0 0a3.0 3.0 0 1 0 6.0 0M625.16 276.64a3.0 3.0 0 1 0 -6.0 0a3.0 3.0 0 1 0 6.0 0M626.90 277.50a3.0 3.0 0 1 0 -6.0 0a3.0 3.0 0 1 0 6.0 0M628.63 278.43a3.0 3.0 0 1 0 -6.0 0a3.0 3.0 0 1 0 6.0 0M630.36 279.45a3.0 3.0 0 1 0 -6.0 0a3.0 3.0 0 1 0 6.0 0M632.10 280.54a3.0 3.0 0 1 0 -6.0 0a3.0 3.0 0 1 0 6.0 0M633.83 281.71a3.0 3.0 0 1 0 -6.0 0a3.0 3.0 0 1 0 6.0 0M635.57 282.95a3.0 3.0 0 1 0 -6.0 0a3.0 3.0 0 1 0 6.0 0M637.30 284.26a3.0 3.0 0 1 0 -6.0 0a3.0 3.0 0 1 0 6.0 0M639.04 285.64a3.0 3.0 0 1 0 -6.0 0a3.0 3.0 0 1 0 6.0 0M640.77 287.09a3.0 3.0 0 1 0 -6.0 0a3.0 3.0 0 1 0 6.0 0M642.50 288.61a3.0 3.0 0 1 0 -6.0 0a3.0 3.0 0 1 0 6.0 0M644.24 290.19a3.0 3.0 0 1 0 -6.0 0a3.0 3.0 0 1 0 6.0 0M645.97 291.83a3.0 3.0 0 1 0 -6.0 0a3.0 3.0 0 1 0 6.0 0M647.71 293.54a3.0 3.0 0 1 0 -6.0 0a3.0 3.0 0 1 0 6.0 0M649.44 295.30a3.0 3.0 0 1 0 -6.0 0a3.0 3.0 0 1 0 6.0 0M651.17 297.12a3.0 3.0 0 1 0 -6.0 0a3.0 3.0 0 1 0 6.0 0M652.91 298.98a3.0 3.0 0 1 0 -6.0 0a3.0 3.0 0 1 0 6.0 0M654.64 300.90a3.0 3.0 0 1 0 -6.0 0a3.0 3.0 0 1 0 6.0 0M656.38 302.86a3.0 3.0 0 1 0 -6.0 0a3.0 3.0 0 1 0 6.0 0M658.11 304.87a3.0 3.0 0 1 0 -6.0 0a3.0 3.0 0 1 0 6.0 0M659.85 306.91a3.0 3.0 0 1 0 -6.0 0a3.0 3.0 0 1 0 6.0 0M661.58 308.99a3.0 3.0 0 1 0 -6.0 0a3.0 3.0 0 1 0 6.0 0M663.31 311.10a3.0 3.0 0 1 0 -6.0 0a3.0 3.0 0 1 0 6.0 0M665.05 313.23a3.0 3.0 0 1 0 -6.0 0a3.0 3.0 0 1 0 6.0 0M666.78 315.39a3.0 3.0 0 1 0 -6.0 0a3.0 3.0 0 1 0 6.0 0M668.52 317.56a3.0 3.0 0 1 0 -6.0 0a3.0 3.0 0 1 0 6.0 0M670.25 319.75a3.0 3.0 0 1 0 -6.0 0a3.0 3.0 0 1 0 6.0 0M671.99 321.95a3.0 3.0 0 1 0 -6.0 0a3.0 3.0 0 1 0 6.0 0M673.72 324.15a3.0 3.0 0 1 0 -6.0 0a3.0 3.0 0 1 0 6.0 0M675.45 326.35a3.0 3.0 0 1 0 -6.0 0a3.0 3.0 0 1 0 6.0 0M677.19 328.54a3.0 3.0 0 1 0 -6.0 0a3.0 3.0 0 1 0 6.0 0M678.92 330.72a3.0 3.0 0 1 0 -6.0 0a3.0 3.0 0 1 0 6.0 0M680.66 332.89a3.0 3.0 0 1 0 -6.0 0a3.0 3.0 0 1 0 6.0 0M682.39 335.03a3.0 3.0 0 1 0 -6.0 0a3.0 3.0 0 1 0 6.0 0M684.13 337.15a3.0 3.0 0 1 0 -6.0 0a3.0 3.0 0 1 0 6.0 0M685.86 339.23a3.0 3.0 0 1 0 -6.0 0a3.0 3.0 0 1 0 6.0 0M687.59 341.28a3.0 3.0 0 1 0 -6.0 0a3.0 3.0 0 1 0 6.0 0M689.33 343.28a3.0 3.0 0 1 0 -6.0 0a3.0 3.0 0 1 0 6.0 0M691.06 345.24a3.0 3.0 0 1 0 -6.0 0a3.0 3.0 0 1 0 6.0 0M692.80 347.14a3.0 3.0 0 1 0 -6.0 0a3.0 3.0 0 1 0 6.0 0M694.53 348.99a3.0 3.0 0 1 0 -6.0 0a3.0 3.0 0 1 0 6.0 0M696.27 350.77a3.0 3.0 0 1 0 -6.0 0a3.0 3.0 0 1 0 6.0 0M698.00 352.49a3.0 3.0 0 1 0 -6.0 0a3.0 3.0 0 1 0 6.0 0M699.73 354.13a3.0 3.0 0 1 0 -6.0 0a3.0 3.0 0 1 0 6.0 0M701.47 355.69a3.0 3.0 0 1 0 -6.0 0a3.0 3.0 0 1 0 6.0 0M703.20 357.18a3.0 3.0 0 1 0 -6.0 0a3.0 3.0 0 1 0 6.0 0M704.94 358.58a3.0 3.0 0 1 0 -6.0 0a3.0 3.0 0 1 0 6.0 0M706.67 359.88a3.0 3.0 0 1 0 -6.0 0a3.0 3.0 0 1 0 6.0 0M708.41 361.10a3.0 3.0 0 1 0 -6.0 0a3.0 3.0 0 1 0 6.0 0M710.14 362.22a3.0 3.0 0 1 0 -6.0 0a3.0 3.0 0 1 0 6.0 0M711.87 363.23a3.0 3.0 0 1 0 -6.0 0a3.0 3.0 0 1 0 6.0 0M713.61 364.15a3.0 3.0 0 1 0 -6.0 0a3.0 3.0 0 1 0 6.0 0M715.34 364.96a3.0 3.0 0 1 0 -6.0 0a3.0 3.0 0 1 0 6.0 0M717.08 365.66a3.0 3.0 0 1 0 -6.0 0a3.0 3.0 0 1 0 6.0 0M718.81 366.25a3.0 3.0 0 1 0 -6.0 0a3.0 3.0 0 1 0 6.0 0M720.54 366.72a3.0 3.0 0 1 0 -6.0 0a3.0 3.0 0 1 0 6.0 0M722.28 367.09a3.0 3.0 0 1 0 -6.0 0a3.0 3.0 0 1 0 6.0 0M724.01 367.34a3.0 3.0 0 1 0 -6.0 0a3.0 3.0 0 1 0 6.0 0M725.75 367.47a3.0 3.0 0 1 0 -6.0 0a3.0 3.0 0 1 0 6.0 0M727.48 367.49a3.0 3.0 0 1 0 -6.0 0a3.0 3.0 0 1 0 6.0 0M729.22 367.40a3.0 3.0 0 1 0 -6.0 0a3.0 3.0 0 1 0 6.0 0M730.95 367.19a3.0 3.0 0 1 0 -6.0 0a3.0 3.0 0 1 0 6.0 0M732.68 366.86a3.0 3.0 0 1 0 -6.0 0a3.0 3.0 0 1 0 6.0 0M734.42 366.42a3.0 3.0 0 1 0 -6.0 0a3.0 3.0 0 1 0 6.0 0M736.15 365.87a3.0 3.0 0 1 0 -6.0 0a3.0 3.0 0 1 0 6.0 0M737.89 365.20a3.0 3.0 0 1 0 -6.0 0a3.0 3.0 0 1 0 6.0 0M739.62 364.43a3.0 3.0 0 1 0 -6.0 0a3.0 3.0 0 1 0 6.0 0M741.36 363.55a3.0 3.0 0 1 0 -6.0 0a3.0 3.0 0 1 0 6.0 0M743.09 362.57a3.0 3.0 0 1 0 -6.0 0a3.0 3.0 0 1 0 6.0 0M744.82 361.48a3.0 3.0 0 1 0 -6.0 0a3.0 3.0 0 1 0 6.0 0M746.56 360.30a3.0 3.0 0 1 0 -6.0 0a3.0 3.0 0 1 0 6.0 0M748.29 359.02a3.0 3.0 0 1 0 -6.0 0a3.0 3.0 0 1 0 6.0 0M750.03 357.65a3.0 3.0 0 1 0 -6.0 0a3.0 3.0 0 1 0 6.0 0M751.76 356.20a3.0 3.0 0 1 0 -6.0 0a3.0 3.0 0 1 0 6.0 0M753.50 354.66a3.0 3.0 0 1 0 -6.0 0a3.0 3.0 0 1 0 6.0 0M755.23 353.04a3.0 3.0 0 1 0 -6.0 0a3.0 3.0 0 1 0 6.0 0M756.96 351.35a3.0 3.0 0 1 0 -6.0 0a3.0 3.0 0 1 0 6.0 0M758.70 349.59a3.0 3.0 0 1 0 -6.0 0a3.0 3.0 0 1 0 6.0 0M760.43 347.77a3.0 3.0 0 1 0 -6.0 0a3.0 3.0 0 1 0 6.0 0M762.17 345.88a3.0 3.0 0 1 0 -6.0 0a3.0 3.0 0 1 0 6.0 0M763.90 343.94a3.0 3.0 0 1 0 -6.0 0a3.0 3.0 0 1 0 6.0 0M765.64 341.95a3.0 3.0 0 1 0 -6.0 0a3.0 3.0 0 1 0 6.0 0M767.37 339.92a3.0 3.0 0 1 0 -6.0 0a3.0 3.0 0 1 0 6.0 0M769.10 337.85a3.0 3.0 0 1 0 -6.0 0a3.0 3.0 0 1 0 6.0 0M770.84 335.74a3.0 3.0 0 1 0 -6.0 0a3.0 3.0 0 1 0 6.0 0M772.57 333.60a3.0 3.0 0 1 0 -6.0 0a3.0 3.0 0 1 0 6.0 0M774.31 331.45a3.0 3.0 0 1 0 -6.0 0a3.0 3.0 0 1 0 6.0 0M776.04 329.27a3.0 3.0 0 1 0 -6.0 0a3.0 3.0 0 1 0 6.0 0M777.78 327.08a3.0 3.0 0 1 0 -6.0 0a3.0 3.0 0 1 0 6.0 0M779.51 324.88a3.0 3.0 0 1 0 -6.0 0a3.0 3.0 0 1 0 6.0 0M781.24 322.68a3.0 3.0 0 1 0 -6.0 0a3.0 3.0 0 1 0 6.0 0M782.98 320.48a3.0 3.0 0 1 0 -6.0 0a3.0 3.0 0 1 0 6.0 0M784.71 318.29a3.0 3.0 0 1 0 -6.0 0a3.0 3.0 0 1 0 6.0 0M786.45 316.11a3.0 3.0 0 1 0 -6.0 0a3.0 3.0 0 1 0 6.0 0M788.18 313.95a3.0 3.0 0 1 0 -6.0 0a3.0 3.0 0 1 0 6.0 0M789.92 311.81a3.0 3.0 0 1 0 -6.0 0a3.0 3.0 0 1 0 6.0 0M791.65 309.69a3.0 3.0 0 1 0 -6.0 0a3.0 3.0 0 1 0 6.0 0M793.38 307.60a3.0 3.0 0 1 0 -6.0 0a3.0 3.0 0 1 0 6.0 0M795.12 305.54a3.0 3.0 0 1 0 -6.0 0a3.0 3.0 0 1 0 6.0 0M796.85 303.53a3.0 3.0 0 1 0 -6.0 0a3.0 3.0 0 1 0 6.0 0M798.59 301.55a3.0 3.0 0 1 0 -6.0 0a3.0 3.0 0 1 0 6.0 0M800.32 299.62a3.0 3.0 0 1 0 -6.0 0a3.0 3.0 0 1 0 6.0 0M802.05 297.73a3.0 3.0 0 1 0 -6.0 0a3.0 3.0 0 1 0 6.0 0M803.79 295.90a3.0 3.0 0 1 0 -6.0 0a3.0 3.0 0 1 0 6.0 0M805.52 294.12a3.0 3.0 0 1 0 -6.0 0a3.0 3.0 0 1 0 6.0 0M807.26 292.39a3.0 3.0 0 1 0 -6.0 0a3.0 3.0 0 1 0 6.0 0M808.99 290.73a3.0 3.0 0 1 0 -6.0 0a3.0 3.0 0 1 0 6.0 0M810.73 289.13a3.0 3.0 0 1 0 -6.0 0a3.0 3.0 0 1 0 6.0 0M812.46 287.59a3.0 3.0 0 1 0 -6.0 0a3.0 3.0 0 1 0 6.0 0M814.19 286.12a3.0 3.0 0 1 0 -6.0 0a3.0 3.0 0 1 0 6.0 0M815.93 284.71a3.0 3.0 0 1 0 -6.0 0a3.0 3.0 0 1 0 6.0 0M817.66 283.38a3.0 3.0 0 1 0 -6.0 0a3.0 3.0 0 1 0 6.0 0M819.40 282.11a3.0 3.0 0 1 0 -6.0 0a3.0 3.0 0 1 0 6.0 0M821.13 280.92a3.0 3.0 0 1 0 -6.0 0a3.0 3.0 0 1 0 6.0 0M822.87 279.80a3.0 3.0 0 1 0 -6.0 0a3.0 3.0 0 1 0 6.0 0M824.60 278.76a3.0 3.0 0 1 0 -6.0 0a3.0 3.0 0 1 0 6.0 0" fill="none" stroke="#00f" stroke-width="0.75"/>
<polyline points="127.90,257.28 129.06,257.31 130.21,257.39 131.37,257.51 132.52,257.69 133.68,257.92 134.84,258.21 135.99,258.54 137.15,258.92 138.31,259.35 139.46,259.83 140.62,260.37 141.77,260.95 142.93,261.57 144.09,262.25 145.24,262.97 146.40,263.74 147.55,264.55 148.71,265.41 149.87,266.31 151.02,267.26 152.18,268.24 153.34,269.27 154.49,270.34 155.65,271.45 156.80,272.60 157.96,273.78 159.12,275.00 160.27,276.26 161.43,277.54 162.59,278.87 163.74,280.22 164.90,281.60 166.05,283.01 167.21,284.45 168.37,285.92 169.52,287.41 170.68,288.92 171.83,290.46 172.99,292.01 174.15,293.59 175.30,295.18 176.46,296.79 177.62,298.42 178.77,300.06 179.93,301.71 181.08,303.37 182.24,305.03 183.40,306.71 184.55,308.39 185.71,310.08 186.86,311.76 188.02,313.45 189.18,315.14 190.33,316.82 191.49,318.51 192.65,320.18 193.80,321.85 194.96,323.51 196.11,325.16 197.27,326.80 198.43,328.43 199.58,330.04 200.74,331.63 201.89,333.21 203.05,334.77 204.21,336.31 205.36,337.82 206.52,339.32 207.68,340.78 208.83,342.23 209.99,343.64 211.14,345.03 212.30,346.38 213.46,347.71 214.61,349.00 215.77,350.26 216.92,351.48 218.08,352.67 219.24,353.82 220.39,354.93 221.55,356.00 222.71,357.04 223.86,358.03 225.02,358.98 226.17,359.88 227.33,360.75 228.49,361.56 229.64,362.34 230.80,363.06 231.96,363.74 233.11,364.38 234.27,364.96 235.42,365.50 236.58,365.98 237.74,366.42 238.89,366.81 240.05,367.15 241.20,367.43 242.36,367.67 243.52,367.85 244.67,367.99 245.83,368.07 246.99,368.10 248.14,368.08 249.30,368.01 250.45,367.88 251.61,367.71 252.77,367.48 253.92,367.21 255.08,366.88 256.23,366.50 257.39,366.07 258.55,365.60 259.70,365.07 260.86,364.50 262.02,363.87 263.17,363.20 264.33,362.49 265.48,361.72 266.64,360.91 267.80,360.06 268.95,359.16 270.11,358.22 271.26,357.24 272.42,356.21 273.58,355.15 274.73,354.04 275.89,352.90 277.05,351.72 278.20,350.51 279.36,349.25 280.51,347.97 281.67,346.65 282.83,345.30 283.98,343.92 285.14,342.51 286.29,341.08 287.45,339.61 288.61,338.12 289.76,336.61 290.92,335.08 292.08,333.52 293.23,331.95 294.39,330.36 295.54,328.75 296.70,327.13 297.86,325.49 299.01,323.84 300.17,322.18 301.33,320.52 302.48,318.84 303.64,317.16 304.79,315.48 305.95,313.79 307.11,312.10 308.26,310.41 309.42,308.73 310.57,307.04 311.73,305.37 312.89,303.70 314.04,302.04 315.20,300.39 316.36,298.74 317.51,297.12 318.67,295.50 319.82,293.91 320.98,292.33 322.14,290.77 323.29,289.23 324.45,287.71 325.60,286.21 326.76,284.74 327.92,283.30 329.07,281.88 330.23,280.49 331.39,279.13 332.54,277.81 333.70,276.51 334.85,275.25 336.01,274.02 337.17,272.83 338.32,271.68 339.48,270.56 340.63,269.48 341.79,268.45 342.95,267.45 344.10,266.50 345.26,265.59 346.42,264.72 347.57,263.90 348.73,263.12 349.88,262.39 351.04,261.70 352.20,261.07 353.35,260.48 354.51,259.94 355.66,259.45 356.82,259.00 357.98,258.61 359.13,258.27 360.29,257.98 361.45,257.74 362.60,257.55 363.76,257.41 364.91,257.32 366.07,257.28 367.23,257.30 368.38,257.37 369.54,257.48 370.70,257.65 371.85,257.87 373.01,258.15 374.16,258.47 375.32,258.84 376.48,259.26 377.63,259.73 378.79,260.26 379.94,260.83 381.10,261.44 382.26,262.11 383.41,262.82 384.57,263.58 385.73,264.39 386.88,265.23 388.04,266.13 389.19,267.06 390.35,268.04 391.51,269.06 392.66,270.13 393.82,271.23 394.97,272.36 396.13,273.54 397.29,274.75 398.44,276.00 399.60,277.28 400.76,278.60 401.91,279.95 403.07,281.32 404.22,282.73 405.38,284.16 406.54,285.62 407.69,287.11 408.85,288.62 410.00,290.15 411.16,291.70 412.32,293.27 413.47,294.86 414.63,296.47 415.79,298.09 416.94,299.73 418.10,301.37 419.25,303.03 420.41,304.70 421.57,306.37 422.72,308.05 423.88,309.74 425.03,311.42 426.19,313.11 427.35,314.80 428.50,316.49 429.66,318.17 430.82,319.85 431.97,321.52 433.13,323.18 434.28,324.83 435.44,326.47 436.60,328.10 437.75,329.72 438.91,331.32 440.07,332.90 441.22,334.46 442.38,336.00 443.53,337.52 444.69,339.02 445.85,340.49 447.00,341.94 448.16,343.36 449.31,344.75 450.47,346.11 451.63,347.45 452.78,348.74 453.94,350.01 455.10,351.24 456.25,352.43 457.41,353.59 458.56,354.71 459.72,355.79 460.88,356.83 462.03,357.83 463.19,358.79 464.34,359.71 465.50,360.58 466.66,361.40 467.81,362.19 468.97,362.92 470.13,363.61 471.28,364.25 472.44,364.85 473.59,365.39 474.75,365.89 475.91,366.34 477.06,366.73 478.22,367.08 479.37,367.38 480.53,367.63 481.69,367.82 482.84,367.96 484.00,368.06 485.16,368.10 486.31,368.09 487.47,368.03 488.62,367.91 489.78,367.75 490.94,367.53 492.09,367.27 493.25,366.95 494.40,366.58 495.56,366.16 496.72,365.70 497.87,365.18 499.03,364.62 500.19,364.00 501.34,363.34 502.50,362.63 503.65,361.88 504.81,361.08 505.97,360.23 507.12,359.35 508.28,358.41 509.44,357.44 510.59,356.42 511.75,355.37 512.90,354.27 514.06,353.13 515.22,351.96 516.37,350.75 517.53,349.51 518.68,348.23 519.84,346.92 521.00,345.57 522.15,344.20 523.31,342.80 524.47,341.36 525.62,339.91 526.78,338.42 527.93,336.92 529.09,335.39 530.25,333.84 531.40,332.27 532.56,330.68 533.71,329.07 534.87,327.45 536.03,325.82 537.18,324.17 538.34,322.52 539.50,320.85 540.65,319.18 541.81,317.50 542.96,315.81 544.12,314.13 545.28,312.44 546.43,310.75 547.59,309.06 548.74,307.38 549.90,305.70 551.06,304.03 552.21,302.37 553.37,300.71 554.53,299.07 555.68,297.44 556.84,295.83 557.99,294.23 559.15,292.64 560.31,291.08 561.46,289.53 562.62,288.01 563.77,286.51 564.93,285.04 566.09,283.59 567.24,282.16 568.40,280.77 569.56,279.40 570.71,278.07 571.87,276.77 573.02,275.50 574.18,274.26 575.34,273.07 576.49,271.90 577.65,270.78 578.81,269.70 579.96,268.65 581.12,267.65 582.27,266.68 583.43,265.77 584.59,264.89 585.74,264.06 586.90,263.27 588.05,262.53 589.21,261.84 590.37,261.19 591.52,260.59 592.68,260.04 593.84,259.54 594.99,259.09 596.15,258.68 597.30,258.33 598.46,258.03 599.62,257.78 600.77,257.58 601.93,257.43 603.08,257.33 604.24,257.29 605.40,257.29 606.55,257.35 607.71,257.46 608.87,257.62 610.02,257.83 611.18,258.09 612.33,258.40 613.49,258.76 614.65,259.17 615.80,259.64 616.96,260.15 618.11,260.71 619.27,261.32 620.43,261.97 621.58,262.68 622.74,263.43 623.90,264.22 625.05,265.06 626.21,265.95 627.36,266.87 628.52,267.84 629.68,268.86 630.83,269.91 631.99,271.00 633.14,272.13 634.30,273.30 635.46,274.51 636.61,275.75 637.77,277.02 638.93,278.33 640.08,279.67 641.24,281.04 642.39,282.44 643.55,283.87 644.71,285.33 645.86,286.81 647.02,288.31 648.17,289.84 649.33,291.39 650.49,292.96 651.64,294.54 652.80,296.15 653.96,297.77 655.11,299.40 656.27,301.04 657.42,302.70 658.58,304.37 659.74,306.04 660.89,307.72 662.05,309.40 663.21,311.09 664.36,312.78 665.52,314.46 666.67,316.15 667.83,317.83 668.99,319.51 670.14,321.18 671.30,322.85 672.45,324.50 673.61,326.15 674.77,327.78 675.92,329.40 677.08,331.00 678.24,332.58 679.39,334.15 680.55,335.69 681.70,337.22 682.86,338.72 684.02,340.20 685.17,341.65 686.33,343.08 687.48,344.48 688.64,345.84 689.80,347.18 690.95,348.49 692.11,349.76 693.27,351.00 694.42,352.20 695.58,353.36 696.73,354.49 697.89,355.58 699.05,356.63 700.20,357.64 701.36,358.60 702.51,359.53 703.67,360.41 704.83,361.24 705.98,362.03 707.14,362.78 708.30,363.48 709.45,364.13 710.61,364.73 711.76,365.29 712.92,365.79 714.08,366.25 715.23,366.66 716.39,367.02 717.54,367.32 718.70,367.58 719.86,367.79 721.01,367.94 722.17,368.04 723.33,368.09 724.48,368.09 725.64,368.04 726.79,367.94 727.95,367.79 729.11,367.58 730.26,367.32 731.42,367.02 732.58,366.66 733.73,366.25 734.89,365.79 736.04,365.29 737.20,364.73 738.36,364.13 739.51,363.48 740.67,362.78 741.82,362.03 742.98,361.24 744.14,360.41 745.29,359.53 746.45,358.60 747.61,357.64 748.76,356.63 749.92,355.58 751.07,354.49 752.23,353.36 753.39,352.20 754.54,351.00 755.70,349.76 756.85,348.49 758.01,347.18 759.17,345.84 760.32,344.48 761.48,343.08 762.64,341.65 763.79,340.20 764.95,338.72 766.10,337.22 767.26,335.69 768.42,334.15 769.57,332.58 770.73,331.00 771.88,329.40 773.04,327.78 774.20,326.15 775.35,324.50 776.51,322.85 777.67,321.18 778.82,319.51 779.98,317.83 781.13,316.15 782.29,314.46 783.45,312.78 784.60,311.09 785.76,309.40 786.92,307.72 788.07,306.04 789.23,304.37 790.38,302.70 791.54,301.04 792.70,299.40 793.85,297.77 795.01,296.15 796.16,294.54 797.32,292.96 798.48,291.39 799.63,289.84 800.79,288.31 801.95,286.81 803.10,285.33 804.26,283.87 805.41,282.44 806.57,281.04 807.73,279.67 808.88,278.33 810.04,277.02 811.19,275.75 812.35,274.51 813.51,273.30 814.66,272.13 815.82,271.00 816.98,269.91 818.13,268.86 819.29,267.84 820.44,266.87 821.60,265.95" fill="none" stroke="#f00" stroke-width="2.9" stroke-linejoin="round"/>
<path d="M130.90 448.94a3.0 3.0 0 1 0 -6.0 0a3.0 3.0 0 1 0 6.0 0M132.63 449.18a3.0 3.0 0 1 0 -6.0 0a3.0 3.0 0 1 0 6.0 0M134.37 449.52a3.0 3.0 0 1 0 -6.0 0a3.0 3.0 0 1 0 6.0 0M136.10 449.98a3.0 3.0 0 1 0 -6.0 0a3.0 3.0 0 1 0 6.0 0M137.84 450.63a3.0 3.0 0 1 0 -6.0 0a3.0 3.0 0 1 0 6.0 0M139.57 451.49a3.0 3.0 0 1 0 -6.0 0a3.0 3.0 0 1 0 6.0 0M141.31 452.63a3.0 3.0 0 1 0 -6.0 0a3.0 3.0 0 1 0 6.0 0M143.04 454.06a3.0 3.0 0 1 0 -6.0 0a3.0 3.0 0 1 0 6.0 0M144.77 455.81a3.0 3.0 0 1 0 -6.0 0a3.0 3.0 0 1 0 6.0 0M146.51 457.86a3.0 3.0 0 1 0 -6.0 0a3.0 3.0 0 1 0 6.0 0M148.24 460.19a3.0 3.0 0 1 0 -6.0 0a3.0 3.0 0 1 0 6.0 0M149.98 462.79a3.0 3.0 0 1 0 -6.0 0a3.0 3.0 0 1 0 6.0 0M151.71 465.62a3.0 3.0 0 1 0 -6.0 0a3.0 3.0 0 1 0 6.0 0M153.45 468.66a3.0 3.0 0 1 0 -6.0 0a3.0 3.0 0 1 0 6.0 0M155.18 471.87a3.0 3.0 0 1 0 -6.0 0a3.0 3.0 0 1 0 6.0 0M156.91 475.24a3.0 3.0 0 1 0 -6.0 0a3.0 3.0 0 1 0 6.0 0M158.65 478.74a3.0 3.0 0 1 0 -6.0 0a3.0 3.0 0 1 0 6.0 0M160.38 482.34a3.0 3.0 0 1 0 -6.0 0a3.0 3.0 0 1 0 6.0 0M162.12 486.04a3.0 3.0 0 1 0 -6.0 0a3.0 3.0 0 1 0 6.0 0M163.85 489.80a3.0 3.0 0 1 0 -6.0 0a3.0 3.0 0 1 0 6.0 0M165.59 493.62a3.0 3.0 0 1 0 -6.0 0a3.0 3.0 0 1 0 6.0 0M167.32 497.48a3.0 3.0 0 1 0 -6.0 0a3.0 3.0 0 1 0 6.0 0M169.05 501.35a3.0 3.0 0 1 0 -6.0 0a3.0 3.0 0 1 0 6.0 0M170.79 505.23a3.0 3.0 0 1 0 -6.0 0a3.0 3.0 0 1 0 6.0 0M172.52 509.10a3.0 3.0 0 1 0 -6.0 0a3.0 3.0 0 1 0 6.0 0M174.26 512.93a3.0 3.0 0 1 0 -6.0 0a3.0 3.0 0 1 0 6.0 0M175.99 516.72a3.0 3.0 0 1 0 -6.0 0a3.0 3.0 0 1 0 6.0 0M177.72 520.46a3.0 3.0 0 1 0 -6.0 0a3.0 3.0 0 1 0 6.0 0M179.46 524.12a3.0 3.0 0 1 0 -6.0 0a3.0 3.0 0 1 0 6.0 0M181.19 527.70a3.0 3.0 0 1 0 -6.0 0a3.0 3.0 0 1 0 6.0 0M182.93 531.18a3.0 3.0 0 1 0 -6.0 0a3.0 3.0 0 1 0 6.0 0M184.66 534.56a3.0 3.0 0 1 0 -6.0 0a3.0 3.0 0 1 0 6.0 0M186.40 537.82a3.0 3.0 0 1 0 -6.0 0a3.0 3.0 0 1 0 6.0 0M188.13 540.95a3.0 3.0 0 1 0 -6.0 0a3.0 3.0 0 1 0 6.0 0M189.86 543.95a3.0 3.0 0 1 0 -6.0 0a3.0 3.0 0 1 0 6.0 0M191.60 546.82a3.0 3.0 0 1 0 -6.0 0a3.0 3.0 0 1 0 6.0 0M193.33 549.54a3.0 3.0 0 1 0 -6.0 0a3.0 3.0 0 1 0 6.0 0M195.07 552.11a3.0 3.0 0 1 0 -6.0 0a3.0 3.0 0 1 0 6.0 0M196.80 554.53a3.0 3.0 0 1 0 -6.0 0a3.0 3.0 0 1 0 6.0 0M198.54 556.80a3.0 3.0 0 1 0 -6.0 0a3.0 3.0 0 1 0 6.0 0M200.27 558.91a3.0 3.0 0 1 0 -6.0 0a3.0 3.0 0 1 0 6.0 0M202.00 560.88a3.0 3.0 0 1 0 -6.0 0a3.0 3.0 0 1 0 6.0 0M203.74 562.69a3.0 3.0 0 1 0 -6.0 0a3.0 3.0 0 1 0 6.0 0M205.47 564.35a3.0 3.0 0 1 0 -6.0 0a3.0 3.0 0 1 0 6.0 0M207.21 565.86a3.0 3.0 0 1 0 -6.0 0a3.0 3.0 0 1 0 6.0 0M208.94 567.23a3.0 3.0 0 1 0 -6.0 0a3.0 3.0 0 1 0 6.0 0M210.68 568.47a3.0 3.0 0 1 0 -6.0 0a3.0 3.0 0 1 0 6.0 0M212.41 569.58a3.0 3.0 0 1 0 -6.0 0a3.0 3.0 0 1 0 6.0 0M214.14 570.56a3.0 3.0 0 1 0 -6.0 0a3.0 3.0 0 1 0 6.0 0M215.88 571.42a3.0 3.0 0 1 0 -6.0 0a3.0 3.0 0 1 0 6.0 0M217.61 572.17a3.0 3.0 0 1 0 -6.0 0a3.0 3.0 0 1 0 6.0 0M219.35 572.82a3.0 3.0 0 1 0 -6.0 0a3.0 3.0 0 1 0 6.0 0M221.08 573.37a3.0 3.0 0 1 0 -6.0 0a3.0 3.0 0 1 0 6.0 0M222.82 573.84a3.0 3.0 0 1 0 -6.0 0a3.0 3.0 0 1 0 6.0 0M224.55 574.23a3.0 3.0 0 1 0 -6.0 0a3.0 3.0 0 1 0 6.0 0M226.28 574.54a3.0 3.0 0 1 0 -6.0 0a3.0 3.0 0 1 0 6.0 0M228.02 574.80a3.0 3.0 0 1 0 -6.0 0a3.0 3.0 0 1 0 6.0 0M229.75 575.00a3.0 3.0 0 1 0 -6.0 0a3.0 3.0 0 1 0 6.0 0M231.49 575.16a3.0 3.0 0 1 0 -6.0 0a3.0 3.0 0 1 0 6.0 0M233.22 575.27a3.0 3.0 0 1 0 -6.0 0a3.0 3.0 0 1 0 6.0 0M234.96 575.36a3.0 3.0 0 1 0 -6.0 0a3.0 3.0 0 1 0 6.0 0M236.69 575.42a3.0 3.0 0 1 0 -6.0 0a3.0 3.0 0 1 0 6.0 0M238.42 575.45a3.0 3.0 0 1 0 -6.0 0a3.0 3.0 0 1 0 6.0 0M240.16 575.48a3.0 3.0 0 1 0 -6.0 0a3.0 3.0 0 1 0 6.0 0M241.89 575.49a3.0 3.0 0 1 0 -6.0 0a3.0 3.0 0 1 0 6.0 0M243.63 575.50a3.0 3.0 0 1 0 -6.0 0a3.0 3.0 0 1 0 6.0 0M245.36 575.50a3.0 3.0 0 1 0 -6.0 0a3.0 3.0 0 1 0 6.0 0M247.09 575.50a3.0 3.0 0 1 0 -6.0 0a3.0 3.0 0 1 0 6.0 0M248.83 575.50a3.0 3.0 0 1 0 -6.0 0a3.0 3.0 0 1 0 6.0 0M250.56 575.50a3.0 3.0 0 1 0 -6.0 0a3.0 3.0 0 1 0 6.0 0M252.30 575.50a3.0 3.0 0 1 0 -6.0 0a3.0 3.0 0 1 0 6.0 0M254.03 575.50a3.0 3.0 0 1 0 -6.0 0a3.0 3.0 0 1 0 6.0 0M255.77 575.49a3.0 3.0 0 1 0 -6.0 0a3.0 3.0 0 1 0 6.0 0M257.50 575.48a3.0 3.0 0 1 0 -6.0 0a3.0 3.0 0 1 0 6.0 0M259.23 575.45a3.0 3.0 0 1 0 -6.0 0a3.0 3.0 0 1 0 6.0 0M260.97 575.42a3.0 3.0 0 1 0 -6.0 0a3.0 3.0 0 1 0 6.0 0M262.70 575.36a3.0 3.0 0 1 0 -6.0 0a3.0 3.0 0 1 0 6.0 0M264.44 575.27a3.0 3.0 0 1 0 -6.0 0a3.0 3.0 0 1 0 6.0 0M266.17 575.15a3.0 3.0 0 1 0 -6.0 0a3.0 3.0 0 1 0 6.0 0M267.91 575.00a3.0 3.0 0 1 0 -6.0 0a3.0 3.0 0 1 0 6.0 0M269.64 574.79a3.0 3.0 0 1 0 -6.0 0a3.0 3.0 0 1 0 6.0 0M271.37 574.54a3.0 3.0 0 1 0 -6.0 0a3.0 3.0 0 1 0 6.0 0M273.11 574.22a3.0 3.0 0 1 0 -6.0 0a3.0 3.0 0 1 0 6.0 0M274.84 573.83a3.0 3.0 0 1 0 -6.0 0a3.0 3.0 0 1 0 6.0 0M276.58 573.36a3.0 3.0 0 1 0 -6.0 0a3.0 3.0 0 1 0 6.0 0M278.31 572.80a3.0 3.0 0 1 0 -6.0 0a3.0 3.0 0 1 0 6.0 0M280.05 572.15a3.0 3.0 0 1 0 -6.0 0a3.0 3.0 0 1 0 6.0 0M281.78 571.40a3.0 3.0 0 1 0 -6.0 0a3.0 3.0 0 1 0 6.0 0M283.51 570.53a3.0 3.0 0 1 0 -6.0 0a3.0 3.0 0 1 0 6.0 0M285.25 569.55a3.0 3.0 0 1 0 -6.0 0a3.0 3.0 0 1 0 6.0 0M286.98 568.44a3.0 3.0 0 1 0 -6.0 0a3.0 3.0 0 1 0 6.0 0M288.72 567.20a3.0 3.0 0 1 0 -6.0 0a3.0 3.0 0 1 0 6.0 0M290.45 565.82a3.0 3.0 0 1 0 -6.0 0a3.0 3.0 0 1 0 6.0 0M292.19 564.30a3.0 3.0 0 1 0 -6.0 0a3.0 3.0 0 1 0 6.0 0M293.92 562.64a3.0 3.0 0 1 0 -6.0 0a3.0 3.0 0 1 0 6.0 0M295.65 560.83a3.0 3.0 0 1 0 -6.0 0a3.0 3.0 0 1 0 6.0 0M297.39 558.86a3.0 3.0 0 1 0 -6.0 0a3.0 3.0 0 1 0 6.0 0M299.12 556.74a3.0 3.0 0 1 0 -6.0 0a3.0 3.0 0 1 0 6.0 0M300.86 554.47a3.0 3.0 0 1 0 -6.0 0a3.0 3.0 0 1 0 6.0 0M302.59 552.04a3.0 3.0 0 1 0 -6.0 0a3.0 3.0 0 1 0 6.0 0M304.33 549.47a3.0 3.0 0 1 0 -6.0 0a3.0 3.0 0 1 0 6.0 0M306.06 546.74a3.0 3.0 0 1 0 -6.0 0a3.0 3.0 0 1 0 6.0 0M307.79 543.88a3.0 3.0 0 1 0 -6.0 0a3.0 3.0 0 1 0 6.0 0M309.53 540.87a3.0 3.0 0 1 0 -6.0 0a3.0 3.0 0 1 0 6.0 0M311.26 537.73a3.0 3.0 0 1 0 -6.0 0a3.0 3.0 0 1 0 6.0 0M313.00 534.47a3.0 3.0 0 1 0 -6.0 0a3.0 3.0 0 1 0 6.0 0M314.73 531.09a3.0 3.0 0 1 0 -6.0 0a3.0 3.0 0 1 0 6.0 0M316.46 527.61a3.0 3.0 0 1 0 -6.0 0a3.0 3.0 0 1 0 6.0 0M318.20 524.02a3.0 3.0 0 1 0 -6.0 0a3.0 3.0 0 1 0 6.0 0M319.93 520.36a3.0 3.0 0 1 0 -6.0 0a3.0 3.0 0 1 0 6.0 0M321.67 516.62a3.0 3.0 0 1 0 -6.0 0a3.0 3.0 0 1 0 6.0 0M323.40 512.83a3.0 3.0 0 1 0 -6.0 0a3.0 3.0 0 1 0 6.0 0M325.14 508.99a3.0 3.0 0 1 0 -6.0 0a3.0 3.0 0 1 0 6.0 0M326.87 505.13a3.0 3.0 0 1 0 -6.0 0a3.0 3.0 0 1 0 6.0 0M328.60 501.25a3.0 3.0 0 1 0 -6.0 0a3.0 3.0 0 1 0 6.0 0M330.34 497.38a3.0 3.0 0 1 0 -6.0 0a3.0 3.0 0 1 0 6.0 0M332.07 493.52a3.0 3.0 0 1 0 -6.0 0a3.0 3.0 0 1 0 6.0 0M333.81 489.70a3.0 3.0 0 1 0 -6.0 0a3.0 3.0 0 1 0 6.0 0M335.54 485.94a3.0 3.0 0 1 0 -6.0 0a3.0 3.0 0 1 0 6.0 0M337.28 482.24a3.0 3.0 0 1 0 -6.0 0a3.0 3.0 0 1 0 6.0 0M339.01 478.63a3.0 3.0 0 1 0 -6.0 0a3.0 3.0 0 1 0 6.0 0M340.74 475.13a3.0 3.0 0 1 0 -6.0 0a3.0 3.0 0 1 0 6.0 0M342.48 471.75a3.0 3.0 0 1 0 -6.0 0a3.0 3.0 0 1 0 6.0 0M344.21 468.50a3.0 3.0 0 1 0 -6.0 0a3.0 3.0 0 1 0 6.0 0M345.95 465.41a3.0 3.0 0 1 0 -6.0 0a3.0 3.0 0 1 0 6.0 0M347.68 462.48a3.0 3.0 0 1 0 -6.0 0a3.0 3.0 0 1 0 6.0 0M349.42 459.74a3.0 3.0 0 1 0 -6.0 0a3.0 3.0 0 1 0 6.0 0M351.15 457.20a3.0 3.0 0 1 0 -6.0 0a3.0 3.0 0 1 0 6.0 0M352.88 454.86a3.0 3.0 0 1 0 -6.0 0a3.0 3.0 0 1 0 6.0 0M354.62 452.75a3.0 3.0 0 1 0 -6.0 0a3.0 3.0 0 1 0 6.0 0M356.35 450.86a3.0 3.0 0 1 0 -6.0 0a3.0 3.0 0 1 0 6.0 0M358.09 449.22a3.0 3.0 0 1 0 -6.0 0a3.0 3.0 0 1 0 6.0 0M359.82 447.83a3.0 3.0 0 1 0 -6.0 0a3.0 3.0 0 1 0 6.0 0M361.56 446.70a3.0 3.0 0 1 0 -6.0 0a3.0 3.0 0 1 0 6.0 0M363.29 445.83a3.0 3.0 0 1 0 -6.0 0a3.0 3.0 0 1 0 6.0 0M365.02 445.22a3.0 3.0 0 1 0 -6.0 0a3.0 3.0 0 1 0 6.0 0M366.76 444.89a3.0 3.0 0 1 0 -6.0 0a3.0 3.0 0 1 0 6.0 0M368.49 444.83a3.0 3.0 0 1 0 -6.0 0a3.0 3.0 0 1 0 6.0 0M370.23 445.04a3.0 3.0 0 1 0 -6.0 0a3.0 3.0 0 1 0 6.0 0M371.96 445.53a3.0 3.0 0 1 0 -6.0 0a3.0 3.0 0 1 0 6.0 0M373.70 446.28a3.0 3.0 0 1 0 -6.0 0a3.0 3.0 0 1 0 6.0 0M375.43 447.30a3.0 3.0 0 1 0 -6.0 0a3.0 3.0 0 1 0 6.0 0M377.16 448.58a3.0 3.0 0 1 0 -6.0 0a3.0 3.0 0 1 0 6.0 0M378.90 450.11a3.0 3.0 0 1 0 -6.0 0a3.0 3.0 0 1 0 6.0 0M380.63 451.89a3.0 3.0 0 1 0 -6.0 0a3.0 3.0 0 1 0 6.0 0M382.37 453.90a3.0 3.0 0 1 0 -6.0 0a3.0 3.0 0 1 0 6.0 0M384.10 456.14a3.0 3.0 0 1 0 -6.0 0a3.0 3.0 0 1 0 6.0 0M385.83 458.60a3.0 3.0 0 1 0 -6.0 0a3.0 3.0 0 1 0 6.0 0M387.57 461.26a3.0 3.0 0 1 0 -6.0 0a3.0 3.0 0 1 0 6.0 0M389.30 464.10a3.0 3.0 0 1 0 -6.0 0a3.0 3.0 0 1 0 6.0 0M391.04 467.12a3.0 3.0 0 1 0 -6.0 0a3.0 3.0 0 1 0 6.0 0M392.77 470.30a3.0 3.0 0 1 0 -6.0 0a3.0 3.0 0 1 0 6.0 0M394.51 473.63a3.0 3.0 0 1 0 -6.0 0a3.0 3.0 0 1 0 6.0 0M396.24 477.08a3.0 3.0 0 1 0 -6.0 0a3.0 3.0 0 1 0 6.0 0M397.97 480.64a3.0 3.0 0 1 0 -6.0 0a3.0 3.0 0 1 0 6.0 0M399.71 484.30a3.0 3.0 0 1 0 -6.0 0a3.0 3.0 0 1 0 6.0 0M401.44 488.04a3.0 3.0 0 1 0 -6.0 0a3.0 3.0 0 1 0 6.0 0M403.18 491.83a3.0 3.0 0 1 0 -6.0 0a3.0 3.0 0 1 0 6.0 0M404.91 495.68a3.0 3.0 0 1 0 -6.0 0a3.0 3.0 0 1 0 6.0 0M406.65 499.54a3.0 3.0 0 1 0 -6.0 0a3.0 3.0 0 1 0 6.0 0M408.38 503.42a3.0 3.0 0 1 0 -6.0 0a3.0 3.0 0 1 0 6.0 0M410.11 507.30a3.0 3.0 0 1 0 -6.0 0a3.0 3.0 0 1 0 6.0 0M411.85 511.15a3.0 3.0 0 1 0 -6.0 0a3.0 3.0 0 1 0 6.0 0M413.58 514.96a3.0 3.0 0 1 0 -6.0 0a3.0 3.0 0 1 0 6.0 0M415.32 518.72a3.0 3.0 0 1 0 -6.0 0a3.0 3.0 0 1 0 6.0 0M417.05 522.42a3.0 3.0 0 1 0 -6.0 0a3.0 3.0 0 1 0 6.0 0M418.79 526.04a3.0 3.0 0 1 0 -6.0 0a3.0 3.0 0 1 0 6.0 0M420.52 529.57a3.0 3.0 0 1 0 -6.0 0a3.0 3.0 0 1 0 6.0 0M422.25 533.00a3.0 3.0 0 1 0 -6.0 0a3.0 3.0 0 1 0 6.0 0M423.99 536.31a3.0 3.0 0 1 0 -6.0 0a3.0 3.0 0 1 0 6.0 0M425.72 539.51a3.0 3.0 0 1 0 -6.0 0a3.0 3.0 0 1 0 6.0 0M427.46 542.57a3.0 3.0 0 1 0 -6.0 0a3.0 3.0 0 1 0 6.0 0M429.19 545.50a3.0 3.0 0 1 0 -6.0 0a3.0 3.0 0 1 0 6.0 0M430.93 548.29a3.0 3.0 0 1 0 -6.0 0a3.0 3.0 0 1 0 6.0 0M432.66 550.93a3.0 3.0 0 1 0 -6.0 0a3.0 3.0 0 1 0 6.0 0M434.39 553.42a3.0 3.0 0 1 0 -6.0 0a3.0 3.0 0 1 0 6.0 0M436.13 555.76a3.0 3.0 0 1 0 -6.0 0a3.0 3.0 0 1 0 6.0 0M437.86 557.95a3.0 3.0 0 1 0 -6.0 0a3.0 3.0 0 1 0 6.0 0M439.60 559.98a3.0 3.0 0 1 0 -6.0 0a3.0 3.0 0 1 0 6.0 0M441.33 561.86a3.0 3.0 0 1 0 -6.0 0a3.0 3.0 0 1 0 6.0 0M443.07 563.59a3.0 3.0 0 1 0 -6.0 0a3.0 3.0 0 1 0 6.0 0M444.80 565.17a3.0 3.0 0 1 0 -6.0 0a3.0 3.0 0 1 0 6.0 0M446.53 566.61a3.0 3.0 0 1 0 -6.0 0a3.0 3.0 0 1 0 6.0 0M448.27 567.91a3.0 3.0 0 1 0 -6.0 0a3.0 3.0 0 1 0 6.0 0M450.00 569.08a3.0 3.0 0 1 0 -6.0 0a3.0 3.0 0 1 0 6.0 0M451.74 570.11a3.0 3.0 0 1 0 -6.0 0a3.0 3.0 0 1 0 6.0 0M453.47 571.03a3.0 3.0 0 1 0 -6.0 0a3.0 3.0 0 1 0 6.0 0M455.20 571.83a3.0 3.0 0 1 0 -6.0 0a3.0 3.0 0 1 0 6.0 0M456.94 572.53a3.0 3.0 0 1 0 -6.0 0a3.0 3.0 0 1 0 6.0 0M458.67 573.12a3.0 3.0 0 1 0 -6.0 0a3.0 3.0 0 1 0 6.0 0M460.41 573.63a3.0 3.0 0 1 0 -6.0 0a3.0 3.0 0 1 0 6.0 0M462.14 574.05a3.0 3.0 0 1 0 -6.0 0a3.0 3.0 0 1 0 6.0 0M463.88 574.40a3.0 3.0 0 1 0 -6.0 0a3.0 3.0 0 1 0 6.0 0M465.61 574.69a3.0 3.0 0 1 0 -6.0 0a3.0 3.0 0 1 0 6.0 0M467.34 574.91a3.0 3.0 0 1 0 -6.0 0a3.0 3.0 0 1 0 6.0 0M469.08 575.09a3.0 3.0 0 1 0 -6.0 0a3.0 3.0 0 1 0 6.0 0M470.81 575.22a3.0 3.0 0 1 0 -6.0 0a3.0 3.0 0 1 0 6.0 0M472.55 575.32a3.0 3.0 0 1 0 -6.0 0a3.0 3.0 0 1 0 6.0 0M474.28 575.39a3.0 3.0 0 1 0 -6.0 0a3.0 3.0 0 1 0 6.0 0M476.02 575.44a3.0 3.0 0 1 0 -6.0 0a3.0 3.0 0 1 0 6.0 0M477.75 575.47a3.0 3.0 0 1 0 -6.0 0a3.0 3.0 0 1 0 6.0 0M479.48 575.49a3.0 3.0 0 1 0 -6.0 0a3.0 3.0 0 1 0 6.0 0M481.22 575.49a3.0 3.0 0 1 0 -6.0 0a3.0 3.0 0 1 0 6.0 0M482.95 575.50a3.0 3.0 0 1 0 -6.0 0a3.0 3.0 0 1 0 6.0 0M484.69 575.50a3.0 3.0 0 1 0 -6.0 0a3.0 3.0 0 1 0 6.0 0M486.42 575.50a3.0 3.0 0 1 0 -6.0 0a3.0 3.0 0 1 0 6.0 0M488.16 575.50a3.0 3.0 0 1 0 -6.0 0a3.0 3.0 0 1 0 6.0 0M489.89 575.50a3.0 3.0 0 1 0 -6.0 0a3.0 3.0 0 1 0 6.0 0M491.62 575.50a3.0 3.0 0 1 0 -6.0 0a3.0 3.0 0 1 0 6.0 0M493.36 575.49a3.0 3.0 0 1 0 -6.0 0a3.0 3.0 0 1 0 6.0 0M495.09 575.48a3.0 3.0 0 1 0 -6.0 0a3.0 3.0 0 1 0 6.0 0M496.83 575.47a3.0 3.0 0 1 0 -6.0 0a3.0 3.0 0 1 0 6.0 0M498.56 575.44a3.0 3.0 0 1 0 -6.0 0a3.0 3.0 0 1 0 6.0 0M500.30 575.39a3.0 3.0 0 1 0 -6.0 0a3.0 3.0 0 1 0 6.0 0M502.03 575.31a3.0 3.0 0 1 0 -6.0 0a3.0 3.0 0 1 0 6.0 0M503.76 575.21a3.0 3.0 0 1 0 -6.0 0a3.0 3.0 0 1 0 6.0 0M505.50 575.08a3.0 3.0 0 1 0 -6.0 0a3.0 3.0 0 1 0 6.0 0M507.23 574.90a3.0 3.0 0 1 0 -6.0 0a3.0 3.0 0 1 0 6.0 0M508.97 574.66a3.0 3.0 0 1 0 -6.0 0a3.0 3.0 0 1 0 6.0 0M510.70 574.37a3.0 3.0 0 1 0 -6.0 0a3.0 3.0 0 1 0 6.0 0M512.44 574.02a3.0 3.0 0 1 0 -6.0 0a3.0 3.0 0 1 0 6.0 0M514.17 573.59a3.0 3.0 0 1 0 -6.0 0a3.0 3.0 0 1 0 6.0 0M515.90 573.07a3.0 3.0 0 1 0 -6.0 0a3.0 3.0 0 1 0 6.0 0M517.64 572.47a3.0 3.0 0 1 0 -6.0 0a3.0 3.0 0 1 0 6.0 0M519.37 571.76a3.0 3.0 0 1 0 -6.0 0a3.0 3.0 0 1 0 6.0 0M521.11 570.95a3.0 3.0 0 1 0 -6.0 0a3.0 3.0 0 1 0 6.0 0M522.84 570.02a3.0 3.0 0 1 0 -6.0 0a3.0 3.0 0 1 0 6.0 0M524.57 568.97a3.0 3.0 0 1 0 -6.0 0a3.0 3.0 0 1 0 6.0 0M526.31 567.79a3.0 3.0 0 1 0 -6.0 0a3.0 3.0 0 1 0 6.0 0M528.04 566.48a3.0 3.0 0 1 0 -6.0 0a3.0 3.0 0 1 0 6.0 0M529.78 565.03a3.0 3.0 0 1 0 -6.0 0a3.0 3.0 0 1 0 6.0 0M531.51 563.44a3.0 3.0 0 1 0 -6.0 0a3.0 3.0 0 1 0 6.0 0M533.25 561.69a3.0 3.0 0 1 0 -6.0 0a3.0 3.0 0 1 0 6.0 0M534.98 559.80a3.0 3.0 0 1 0 -6.0 0a3.0 3.0 0 1 0 6.0 0M536.71 557.75a3.0 3.0 0 1 0 -6.0 0a3.0 3.0 0 1 0 6.0 0M538.45 555.55a3.0 3.0 0 1 0 -6.0 0a3.0 3.0 0 1 0 6.0 0M540.18 553.19a3.0 3.0 0 1 0 -6.0 0a3.0 3.0 0 1 0 6.0 0M541.92 550.69a3.0 3.0 0 1 0 -6.0 0a3.0 3.0 0 1 0 6.0 0M543.65 548.03a3.0 3.0 0 1 0 -6.0 0a3.0 3.0 0 1 0 6.0 0M545.39 545.23a3.0 3.0 0 1 0 -6.0 0a3.0 3.0 0 1 0 6.0 0M547.12 542.29a3.0 3.0 0 1 0 -6.0 0a3.0 3.0 0 1 0 6.0 0M548.85 539.21a3.0 3.0 0 1 0 -6.0 0a3.0 3.0 0 1 0 6.0 0M550.59 536.01a3.0 3.0 0 1 0 -6.0 0a3.0 3.0 0 1 0 6.0 0M552.32 532.68a3.0 3.0 0 1 0 -6.0 0a3.0 3.0 0 1 0 6.0 0M554.06 529.24a3.0 3.0 0 1 0 -6.0 0a3.0 3.0 0 1 0 6.0 0M555.79 525.71a3.0 3.0 0 1 0 -6.0 0a3.0 3.0 0 1 0 6.0 0M557.53 522.08a3.0 3.0 0 1 0 -6.0 0a3.0 3.0 0 1 0 6.0 0M559.26 518.38a3.0 3.0 0 1 0 -6.0 0a3.0 3.0 0 1 0 6.0 0M560.99 514.61a3.0 3.0 0 1 0 -6.0 0a3.0 3.0 0 1 0 6.0 0M562.73 510.79a3.0 3.0 0 1 0 -6.0 0a3.0 3.0 0 1 0 6.0 0M564.46 506.94a3.0 3.0 0 1 0 -6.0 0a3.0 3.0 0 1 0 6.0 0M566.20 503.06a3.0 3.0 0 1 0 -6.0 0a3.0 3.0 0 1 0 6.0 0M567.93 499.18a3.0 3.0 0 1 0 -6.0 0a3.0 3.0 0 1 0 6.0 0M569.67 495.32a3.0 3.0 0 1 0 -6.0 0a3.0 3.0 0 1 0 6.0 0M571.40 491.48a3.0 3.0 0 1 0 -6.0 0a3.0 3.0 0 1 0 6.0 0M573.13 487.69a3.0 3.0 0 1 0 -6.0 0a3.0 3.0 0 1 0 6.0 0M574.87 483.96a3.0 3.0 0 1 0 -6.0 0a3.0 3.0 0 1 0 6.0 0M576.60 480.30a3.0 3.0 0 1 0 -6.0 0a3.0 3.0 0 1 0 6.0 0M578.34 476.75a3.0 3.0 0 1 0 -6.0 0a3.0 3.0 0 1 0 6.0 0M580.07 473.31a3.0 3.0 0 1 0 -6.0 0a3.0 3.0 0 1 0 6.0 0M581.81 470.00a3.0 3.0 0 1 0 -6.0 0a3.0 3.0 0 1 0 6.0 0M583.54 466.83a3.0 3.0 0 1 0 -6.0 0a3.0 3.0 0 1 0 6.0 0M585.27 463.83a3.0 3.0 0 1 0 -6.0 0a3.0 3.0 0 1 0 6.0 0M587.01 461.00a3.0 3.0 0 1 0 -6.0 0a3.0 3.0 0 1 0 6.0 0M588.74 458.36a3.0 3.0 0 1 0 -6.0 0a3.0 3.0 0 1 0 6.0 0M590.48 455.93a3.0 3.0 0 1 0 -6.0 0a3.0 3.0 0 1 0 6.0 0M592.21 453.71a3.0 3.0 0 1 0 -6.0 0a3.0 3.0 0 1 0 6.0 0M593.94 451.71a3.0 3.0 0 1 0 -6.0 0a3.0 3.0 0 1 0 6.0 0M595.68 449.96a3.0 3.0 0 1 0 -6.0 0a3.0 3.0 0 1 0 6.0 0M597.41 448.45a3.0 3.0 0 1 0 -6.0 0a3.0 3.0 0 1 0 6.0 0M599.15 447.19a3.0 3.0 0 1 0 -6.0 0a3.0 3.0 0 1 0 6.0 0M600.88 446.20a3.0 3.0 0 1 0 -6.0 0a3.0 3.0 0 1 0 6.0 0M602.62 445.47a3.0 3.0 0 1 0 -6.0 0a3.0 3.0 0 1 0 6.0 0M604.35 445.01a3.0 3.0 0 1 0 -6.0 0a3.0 3.0 0 1 0 6.0 0M606.08 444.82a3.0 3.0 0 1 0 -6.0 0a3.0 3.0 0 1 0 6.0 0M607.82 444.91a3.0 3.0 0 1 0 -6.0 0a3.0 3.0 0 1 0 6.0 0M609.55 445.27a3.0 3.0 0 1 0 -6.0 0a3.0 3.0 0 1 0 6.0 0M611.29 445.90a3.0 3.0 0 1 0 -6.0 0a3.0 3.0 0 1 0 6.0 0M613.02 446.79a3.0 3.0 0 1 0 -6.0 0a3.0 3.0 0 1 0 6.0 0M614.76 447.95a3.0 3.0 0 1 0 -6.0 0a3.0 3.0 0 1 0 6.0 0M616.49 449.37a3.0 3.0 0 1 0 -6.0 0a3.0 3.0 0 1 0 6.0 0M618.22 451.03a3.0 3.0 0 1 0 -6.0 0a3.0 3.0 0 1 0 6.0 0M619.96 452.94a3.0 3.0 0 1 0 -6.0 0a3.0 3.0 0 1 0 6.0 0M621.69 455.07a3.0 3.0 0 1 0 -6.0 0a3.0 3.0 0 1 0 6.0 0M623.43 457.43a3.0 3.0 0 1 0 -6.0 0a3.0 3.0 0 1 0 6.0 0M625.16 459.99a3.0 3.0 0 1 0 -6.0 0a3.0 3.0 0 1 0 6.0 0M626.90 462.75a3.0 3.0 0 1 0 -6.0 0a3.0 3.0 0 1 0 6.0 0M628.63 465.69a3.0 3.0 0 1 0 -6.0 0a3.0 3.0 0 1 0 6.0 0M630.36 468.80a3.0 3.0 0 1 0 -6.0 0a3.0 3.0 0 1 0 6.0 0M632.10 472.06a3.0 3.0 0 1 0 -6.0 0a3.0 3.0 0 1 0 6.0 0M633.83 475.45a3.0 3.0 0 1 0 -6.0 0a3.0 3.0 0 1 0 6.0 0M635.57 478.97a3.0 3.0 0 1 0 -6.0 0a3.0 3.0 0 1 0 6.0 0M637.30 482.58a3.0 3.0 0 1 0 -6.0 0a3.0 3.0 0 1 0 6.0 0M639.04 486.28a3.0 3.0 0 1 0 -6.0 0a3.0 3.0 0 1 0 6.0 0M640.77 490.06a3.0 3.0 0 1 0 -6.0 0a3.0 3.0 0 1 0 6.0 0M642.50 493.88a3.0 3.0 0 1 0 -6.0 0a3.0 3.0 0 1 0 6.0 0M644.24 497.74a3.0 3.0 0 1 0 -6.0 0a3.0 3.0 0 1 0 6.0 0M645.97 501.61a3.0 3.0 0 1 0 -6.0 0a3.0 3.0 0 1 0 6.0 0M647.71 505.49a3.0 3.0 0 1 0 -6.0 0a3.0 3.0 0 1 0 6.0 0M649.44 509.35a3.0 3.0 0 1 0 -6.0 0a3.0 3.0 0 1 0 6.0 0M651.17 513.19a3.0 3.0 0 1 0 -6.0 0a3.0 3.0 0 1 0 6.0 0M652.91 516.98a3.0 3.0 0 1 0 -6.0 0a3.0 3.0 0 1 0 6.0 0M654.64 520.71a3.0 3.0 0 1 0 -6.0 0a3.0 3.0 0 1 0 6.0 0M656.38 524.36a3.0 3.0 0 1 0 -6.0 0a3.0 3.0 0 1 0 6.0 0M658.11 527.93a3.0 3.0 0 1 0 -6.0 0a3.0 3.0 0 1 0 6.0 0M659.85 531.41a3.0 3.0 0 1 0 -6.0 0a3.0 3.0 0 1 0 6.0 0M661.58 534.78a3.0 3.0 0 1 0 -6.0 0a3.0 3.0 0 1 0 6.0 0M663.31 538.03a3.0 3.0 0 1 0 -6.0 0a3.0 3.0 0 1 0 6.0 0M665.05 541.16a3.0 3.0 0 1 0 -6.0 0a3.0 3.0 0 1 0 6.0 0M666.78 544.15a3.0 3.0 0 1 0 -6.0 0a3.0 3.0 0 1 0 6.0 0M668.52 547.00a3.0 3.0 0 1 0 -6.0 0a3.0 3.0 0 1 0 6.0 0M670.25 549.71a3.0 3.0 0 1 0 -6.0 0a3.0 3.0 0 1 0 6.0 0M671.99 552.28a3.0 3.0 0 1 0 -6.0 0a3.0 3.0 0 1 0 6.0 0M673.72 554.69a3.0 3.0 0 1 0 -6.0 0a3.0 3.0 0 1 0 6.0 0M675.45 556.95a3.0 3.0 0 1 0 -6.0 0a3.0 3.0 0 1 0 6.0 0M677.19 559.05a3.0 3.0 0 1 0 -6.0 0a3.0 3.0 0 1 0 6.0 0M678.92 561.00a3.0 3.0 0 1 0 -6.0 0a3.0 3.0 0 1 0 6.0 0M680.66 562.80a3.0 3.0 0 1 0 -6.0 0a3.0 3.0 0 1 0 6.0 0M682.39 564.45a3.0 3.0 0 1 0 -6.0 0a3.0 3.0 0 1 0 6.0 0M684.13 565.96a3.0 3.0 0 1 0 -6.0 0a3.0 3.0 0 1 0 6.0 0M685.86 567.32a3.0 3.0 0 1 0 -6.0 0a3.0 3.0 0 1 0 6.0 0M687.59 568.55a3.0 3.0 0 1 0 -6.0 0a3.0 3.0 0 1 0 6.0 0M689.33 569.64a3.0 3.0 0 1 0 -6.0 0a3.0 3.0 0 1 0 6.0 0M691.06 570.62a3.0 3.0 0 1 0 -6.0 0a3.0 3.0 0 1 0 6.0 0M692.80 571.47a3.0 3.0 0 1 0 -6.0 0a3.0 3.0 0 1 0 6.0 0M694.53 572.21a3.0 3.0 0 1 0 -6.0 0a3.0 3.0 0 1 0 6.0 0M696.27 572.86a3.0 3.0 0 1 0 -6.0 0a3.0 3.0 0 1 0 6.0 0M698.00 573.40a3.0 3.0 0 1 0 -6.0 0a3.0 3.0 0 1 0 6.0 0M699.73 573.87a3.0 3.0 0 1 0 -6.0 0a3.0 3.0 0 1 0 6.0 0M701.47 574.25a3.0 3.0 0 1 0 -6.0 0a3.0 3.0 0 1 0 6.0 0M703.20 574.56a3.0 3.0 0 1 0 -6.0 0a3.0 3.0 0 1 0 6.0 0M704.94 574.82a3.0 3.0 0 1 0 -6.0 0a3.0 3.0 0 1 0 6.0 0M706.67 575.01a3.0 3.0 0 1 0 -6.0 0a3.0 3.0 0 1 0 6.0 0M708.41 575.17a3.0 3.0 0 1 0 -6.0 0a3.0 3.0 0 1 0 6.0 0M710.14 575.28a3.0 3.0 0 1 0 -6.0 0a3.0 3.0 0 1 0 6.0 0M711.87 575.36a3.0 3.0 0 1 0 -6.0 0a3.0 3.0 0 1 0 6.0 0M713.61 575.42a3.0 3.0 0 1 0 -6.0 0a3.0 3.0 0 1 0 6.0 0M715.34 575.46a3.0 3.0 0 1 0 -6.0 0a3.0 3.0 0 1 0 6.0 0M717.08 575.48a3.0 3.0 0 1 0 -6.0 0a3.0 3.0 0 1 0 6.0 0M718.81 575.49a3.0 3.0 0 1 0 -6.0 0a3.0 3.0 0 1 0 6.0 0M720.54 575.50a3.0 3.0 0 1 0 -6.0 0a3.0 3.0 0 1 0 6.0 0M722.28 575.50a3.0 3.0 0 1 0 -6.0 0a3.0 3.0 0 1 0 6.0 0M724.01 575.50a3.0 3.0 0 1 0 -6.0 0a3.0 3.0 0 1 0 6.0 0M725.75 575.50a3.0 3.0 0 1 0 -6.0 0a3.0 3.0 0 1 0 6.0 0M727.48 575.50a3.0 3.0 0 1 0 -6.0 0a3.0 3.0 0 1 0 6.0 0M729.22 575.50a3.0 3.0 0 1 0 -6.0 0a3.0 3.0 0 1 0 6.0 0M730.95 575.50a3.0 3.0 0 1 0 -6.0 0a3.0 3.0 0 1 0 6.0 0M732.68 575.49a3.0 3.0 0 1 0 -6.0 0a3.0 3.0 0 1 0 6.0 0M734.42 575.48a3.0 3.0 0 1 0 -6.0 0a3.0 3.0 0 1 0 6.0 0M736.15 575.45a3.0 3.0 0 1 0 -6.0 0a3.0 3.0 0 1 0 6.0 0M737.89 575.41a3.0 3.0 0 1 0 -6.0 0a3.0 3.0 0 1 0 6.0 0M739.62 575.35a3.0 3.0 0 1 0 -6.0 0a3.0 3.0 0 1 0 6.0 0M741.36 575.26a3.0 3.0 0 1 0 -6.0 0a3.0 3.0 0 1 0 6.0 0M743.09 575.14a3.0 3.0 0 1 0 -6.0 0a3.0 3.0 0 1 0 6.0 0M744.82 574.99a3.0 3.0 0 1 0 -6.0 0a3.0 3.0 0 1 0 6.0 0M746.56 574.78a3.0 3.0 0 1 0 -6.0 0a3.0 3.0 0 1 0 6.0 0M748.29 574.52a3.0 3.0 0 1 0 -6.0 0a3.0 3.0 0 1 0 6.0 0M750.03 574.19a3.0 3.0 0 1 0 -6.0 0a3.0 3.0 0 1 0 6.0 0M751.76 573.80a3.0 3.0 0 1 0 -6.0 0a3.0 3.0 0 1 0 6.0 0M753.50 573.32a3.0 3.0 0 1 0 -6.0 0a3.0 3.0 0 1 0 6.0 0M755.23 572.76a3.0 3.0 0 1 0 -6.0 0a3.0 3.0 0 1 0 6.0 0M756.96 572.10a3.0 3.0 0 1 0 -6.0 0a3.0 3.0 0 1 0 6.0 0M758.70 571.34a3.0 3.0 0 1 0 -6.0 0a3.0 3.0 0 1 0 6.0 0M760.43 570.47a3.0 3.0 0 1 0 -6.0 0a3.0 3.0 0 1 0 6.0 0M762.17 569.48a3.0 3.0 0 1 0 -6.0 0a3.0 3.0 0 1 0 6.0 0M763.90 568.36a3.0 3.0 0 1 0 -6.0 0a3.0 3.0 0 1 0 6.0 0M765.64 567.11a3.0 3.0 0 1 0 -6.0 0a3.0 3.0 0 1 0 6.0 0M767.37 565.73a3.0 3.0 0 1 0 -6.0 0a3.0 3.0 0 1 0 6.0 0M769.10 564.20a3.0 3.0 0 1 0 -6.0 0a3.0 3.0 0 1 0 6.0 0M770.84 562.52a3.0 3.0 0 1 0 -6.0 0a3.0 3.0 0 1 0 6.0 0M772.57 560.70a3.0 3.0 0 1 0 -6.0 0a3.0 3.0 0 1 0 6.0 0M774.31 558.72a3.0 3.0 0 1 0 -6.0 0a3.0 3.0 0 1 0 6.0 0M776.04 556.59a3.0 3.0 0 1 0 -6.0 0a3.0 3.0 0 1 0 6.0 0M777.78 554.31a3.0 3.0 0 1 0 -6.0 0a3.0 3.0 0 1 0 6.0 0M779.51 551.88a3.0 3.0 0 1 0 -6.0 0a3.0 3.0 0 1 0 6.0 0M781.24 549.29a3.0 3.0 0 1 0 -6.0 0a3.0 3.0 0 1 0 6.0 0M782.98 546.56a3.0 3.0 0 1 0 -6.0 0a3.0 3.0 0 1 0 6.0 0M784.71 543.68a3.0 3.0 0 1 0 -6.0 0a3.0 3.0 0 1 0 6.0 0M786.45 540.67a3.0 3.0 0 1 0 -6.0 0a3.0 3.0 0 1 0 6.0 0M788.18 537.52a3.0 3.0 0 1 0 -6.0 0a3.0 3.0 0 1 0 6.0 0M789.92 534.25a3.0 3.0 0 1 0 -6.0 0a3.0 3.0 0 1 0 6.0 0M791.65 530.86a3.0 3.0 0 1 0 -6.0 0a3.0 3.0 0 1 0 6.0 0M793.38 527.37a3.0 3.0 0 1 0 -6.0 0a3.0 3.0 0 1 0 6.0 0M795.12 523.78a3.0 3.0 0 1 0 -6.0 0a3.0 3.0 0 1 0 6.0 0M796.85 520.11a3.0 3.0 0 1 0 -6.0 0a3.0 3.0 0 1 0 6.0 0M798.59 516.37a3.0 3.0 0 1 0 -6.0 0a3.0 3.0 0 1 0 6.0 0M800.32 512.58a3.0 3.0 0 1 0 -6.0 0a3.0 3.0 0 1 0 6.0 0M802.05 508.74a3.0 3.0 0 1 0 -6.0 0a3.0 3.0 0 1 0 6.0 0M803.79 504.87a3.0 3.0 0 1 0 -6.0 0a3.0 3.0 0 1 0 6.0 0M805.52 500.99a3.0 3.0 0 1 0 -6.0 0a3.0 3.0 0 1 0 6.0 0M807.26 497.12a3.0 3.0 0 1 0 -6.0 0a3.0 3.0 0 1 0 6.0 0M808.99 493.26a3.0 3.0 0 1 0 -6.0 0a3.0 3.0 0 1 0 6.0 0M810.73 489.45a3.0 3.0 0 1 0 -6.0 0a3.0 3.0 0 1 0 6.0 0M812.46 485.69a3.0 3.0 0 1 0 -6.0 0a3.0 3.0 0 1 0 6.0 0M814.19 482.00a3.0 3.0 0 1 0 -6.0 0a3.0 3.0 0 1 0 6.0 0M815.93 478.40a3.0 3.0 0 1 0 -6.0 0a3.0 3.0 0 1 0 6.0 0M817.66 474.90a3.0 3.0 0 1 0 -6.0 0a3.0 3.0 0 1 0 6.0 0M819.40 471.53a3.0 3.0 0 1 0 -6.0 0a3.0 3.0 0 1 0 6.0 0M821.13 468.29a3.0 3.0 0 1 0 -6.0 0a3.0 3.0 0 1 0 6.0 0M822.87 465.21a3.0 3.0 0 1 0 -6.0 0a3.0 3.0 0 1 0 6.0 0M824.60 462.30a3.0 3.0 0 1 0 -6.0 0a3.0 3.0 0 1 0 6.0 0" fill="none" stroke="#00f" stroke-width="0.75"/>
<polyline points="127.90,576.10 129.06,576.10 130.21,576.10 131.37,576.10 132.52,576.10 133.68,576.10 134.84,576.10 135.99,576.10 137.15,576.10 138.31,576.10 139.46,576.10 140.62,576.10 141.77,576.10 142.93,576.10 144.09,576.10 145.24,576.10 146.40,576.10 147.55,576.10 148.71,576.10 149.87,576.10 151.02,576.10 152.18,576.10 153.34,576.10 154.49,576.10 155.65,576.10 156.80,576.10 157.96,576.10 159.12,576.10 160.27,576.10 161.43,576.10 162.59,576.10 163.74,576.10 164.90,576.10 166.05,576.10 167.21,576.10 168.37,576.10 169.52,576.10 170.68,576.10 171.83,576.10 172.99,576.10 174.15,576.10 175.30,576.10 176.46,576.10 177.62,576.10 178.77,576.10 179.93,576.10 181.08,576.10 182.24,576.10 183.40,576.10 184.55,576.10 185.71,576.10 186.86,576.10 188.02,576.10 189.18,576.10 190.33,576.10 191.49,576.10 192.65,576.10 193.80,576.10 194.96,576.10 196.11,576.10 197.27,576.10 198.43,576.10 199.58,576.10 200.74,576.10 201.89,576.10 203.05,576.10 204.21,576.10 205.36,576.10 206.52,576.10 207.68,576.10 208.83,576.10 209.99,576.10 211.14,576.10 212.30,576.10 213.46,576.10 214.61,576.10 215.77,576.10 216.92,576.10 218.08,576.10 219.24,576.10 220.39,576.10 221.55,576.10 222.71,576.10 223.86,576.10 225.02,576.10 226.17,576.10 227.33,576.10 228.49,576.10 229.64,576.10 230.80,576.10 231.96,576.10 233.11,576.10 234.27,576.10 235.42,576.10 236.58,576.10 237.74,576.10 238.89,576.10 240.05,576.10 241.20,576.10 242.36,576.10 243.52,576.10 244.67,576.10 245.83,576.10 246.99,576.10 248.14,576.10 249.30,576.10 250.45,576.10 251.61,576.10 252.77,576.10 253.92,576.10 255.08,576.10 256.23,576.10 257.39,576.10 258.55,576.10 259.70,576.10 260.86,576.10 262.02,576.10 263.17,576.10 264.33,576.10 265.48,576.10 266.64,576.10 267.80,576.10 268.95,576.10 270.11,576.10 271.26,576.10 272.42,576.10 273.58,576.10 274.73,576.10 275.89,576.10 277.05,576.10 278.20,576.10 279.36,576.10 280.51,576.10 281.67,576.10 282.83,576.10 283.98,576.10 285.14,576.10 286.29,576.10 287.45,576.10 288.61,576.10 289.76,576.10 290.92,576.10 292.08,576.10 293.23,576.10 294.39,576.10 295.54,576.10 296.70,576.10 297.86,576.10 299.01,576.10 300.17,576.10 301.33,576.10 302.48,576.10 303.64,576.10 304.79,576.10 305.95,576.10 307.11,576.10 308.26,576.10 309.42,576.10 310.57,576.10 311.73,576.10 312.89,576.10 314.04,576.10 315.20,576.10 316.36,576.10 317.51,576.10 318.67,576.10 319.82,576.10 320.98,576.10 322.14,576.10 323.29,576.10 324.45,576.10 325.60,576.10 326.76,576.10 327.92,576.10 329.07,576.10 330.23,576.10 331.39,576.10 332.54,576.10 333.70,576.10 334.85,576.10 336.01,576.10 337.17,576.10 338.32,576.10 339.48,576.10 340.63,576.10 341.79,576.10 342.95,576.10 344.10,576.10 345.26,576.10 346.42,576.10 347.57,576.10 348.73,576.10 349.88,576.10 351.04,576.10 352.20,576.10 353.35,576.10 354.51,576.10 355.66,576.10 356.82,576.10 357.98,576.10 359.13,576.10 360.29,576.10 361.45,576.10 362.60,576.10 363.76,576.10 364.91,576.10 366.07,576.10 367.23,576.10 368.38,576.10 369.54,576.10 370.70,576.10 371.85,576.10 373.01,576.10 374.16,576.10 375.32,576.10 376.48,576.10 377.63,576.10 378.79,576.10 379.94,576.10 381.10,576.10 382.26,576.10 383.41,576.10 384.57,576.10 385.73,576.10 386.88,576.10 388.04,576.10 389.19,576.10 390.35,576.10 391.51,576.10 392.66,576.10 393.82,576.10 394.97,576.10 396.13,576.10 397.29,576.10 398.44,576.10 399.60,576.10 400.76,576.10 401.91,576.10 403.07,576.10 404.22,576.10 405.38,576.10 406.54,576.10 407.69,576.10 408.85,576.10 410.00,576.10 411.16,576.10 412.32,576.10 413.47,576.10 414.63,576.10 415.79,576.10 416.94,576.10 418.10,576.10 419.25,576.10 420.41,576.10 421.57,576.10 422.72,576.10 423.88,576.10 425.03,576.10 426.19,576.10 427.35,576.10 428.50,576.10 429.66,576.10 430.82,576.10 431.97,576.10 433.13,576.10 434.28,576.10 435.44,576.10 436.60,576.10 437.75,576.10 438.91,576.10 440.07,576.10 441.22,576.10 442.38,576.10 443.53,576.10 444.69,576.10 445.85,576.10 447.00,576.10 448.16,576.10 449.31,576.10 450.47,576.10 451.63,576.10 452.78,576.10 453.94,576.10 455.10,576.10 456.25,576.10 457.41,576.10 458.56,576.10 459.72,576.10 460.88,576.10 462.03,576.10 463.19,576.10 464.34,576.10 465.50,576.10 466.66,576.10 467.81,576.10 468.97,576.10 470.13,576.10 471.28,576.10 472.44,576.10 473.59,576.10 474.75,576.10 475.91,576.10 477.06,576.10 478.22,576.10 479.37,576.10 480.53,576.10 481.69,576.10 482.84,576.10 484.00,576.10 485.16,576.10 486.31,576.10 487.47,576.10 488.62,576.10 489.78,576.10 490.94,576.10 492.09,576.10 493.25,576.10 494.40,576.10 495.56,576.10 496.72,576.10 497.87,576.10 499.03,576.10 500.19,576.10 501.34,576.10 502.50,576.10 503.65,576.10 504.81,576.10 505.97,576.10 507.12,576.10 508.28,576.10 509.44,576.10 510.59,576.10 511.75,576.10 512.90,576.10 514.06,576.10 515.22,576.10 516.37,576.10 517.53,576.10 518.68,576.10 519.84,576.10 521.00,576.10 522.15,576.10 523.31,576.10 524.47,576.10 525.62,576.10 526.78,576.10 527.93,576.10 529.09,576.10 530.25,576.10 531.40,576.10 532.56,576.10 533.71,576.10 534.87,576.10 536.03,576.10 537.18,576.10 538.34,576.10 539.50,576.10 540.65,576.10 541.81,576.10 542.96,576.10 544.12,576.10 545.28,576.10 546.43,576.10 547.59,576.10 548.74,576.10 549.90,576.10 551.06,576.10 552.21,576.10 553.37,576.10 554.53,576.10 555.68,576.10 556.84,576.10 557.99,576.10 559.15,576.10 560.31,576.10 561.46,576.10 562.62,576.10 563.77,576.10 564.93,576.10 566.09,576.10 567.24,576.10 568.40,576.10 569.56,576.10 570.71,576.10 571.87,576.10 573.02,576.10 574.18,576.10 575.34,576.10 576.49,576.10 577.65,576.10 578.81,576.10 579.96,576.10 581.12,576.10 582.27,576.10 583.43,576.10 584.59,576.10 585.74,576.10 586.90,576.10 588.05,576.10 589.21,576.10 590.37,576.10 591.52,576.10 592.68,576.10 593.84,576.10 594.99,576.10 596.15,576.10 597.30,576.10 598.46,576.10 599.62,576.10 600.77,576.10 601.93,576.10 603.08,576.10 604.24,576.10 605.40,576.10 606.55,576.10 607.71,576.10 608.87,576.10 610.02,576.10 611.18,576.10 612.33,576.10 613.49,576.10 614.65,576.10 615.80,576.10 616.96,576.10 618.11,576.10 619.27,576.10 620.43,576.10 621.58,576.10 622.74,576.10 623.90,576.10 625.05,576.10 626.21,576.10 627.36,576.10 628.52,576.10 629.68,576.10 630.83,576.10 631.99,576.10 633.14,576.10 634.30,576.10 635.46,576.10 636.61,576.10 637.77,576.10 638.93,576.10 640.08,576.10 641.24,576.10 642.39,576.10 643.55,576.10 644.71,576.10 645.86,576.10 647.02,576.10 648.17,576.10 649.33,576.10 650.49,576.10 651.64,576.10 652.80,576.10 653.96,576.10 655.11,576.10 656.27,576.10 657.42,576.10 658.58,576.10 659.74,576.10 660.89,576.10 662.05,576.10 663.21,576.10 664.36,576.10 665.52,576.10 666.67,576.10 667.83,576.10 668.99,576.10 670.14,576.10 671.30,576.10 672.45,576.10 673.61,576.10 674.77,576.10 675.92,576.10 677.08,576.10 678.24,576.10 679.39,576.10 680.55,576.10 681.70,576.10 682.86,576.10 684.02,576.10 685.17,576.10 686.33,576.10 687.48,576.10 688.64,576.10 689.80,576.10 690.95,576.10 692.11,576.10 693.27,576.10 694.42,576.10 695.58,576.10 696.73,576.10 697.89,576.10 699.05,576.10 700.20,576.10 701.36,576.10 702.51,576.10 703.67,576.10 704.83,576.10 705.98,576.10 707.14,576.10 708.30,576.10 709.45,576.10 710.61,576.10 711.76,576.10 712.92,576.10 714.08,576.10 715.23,576.10 716.39,576.10 717.54,576.10 718.70,576.10 719.86,576.10 721.01,576.10 722.17,576.10 723.33,576.10 724.48,576.10 725.64,576.10 726.79,576.10 727.95,576.10 729.11,576.10 730.26,576.10 731.42,576.10 732.58,576.10 733.73,576.10 734.89,576.10 736.04,576.10 737.20,576.10 738.36,576.10 739.51,576.10 740.67,576.10 741.82,576.10 742.98,576.10 744.14,576.10 745.29,576.10 746.45,576.10 747.61,576.10 748.76,576.10 749.92,576.10 751.07,576.10 752.23,576.10 753.39,576.10 754.54,576.10 755.70,576.10 756.85,576.10 758.01,576.10 759.17,576.10 760.32,576.10 761.48,576.10 762.64,576.10 763.79,576.10 764.95,576.10 766.10,576.10 767.26,576.10 768.42,576.10 769.57,576.10 770.73,576.10 771.88,576.10 773.04,576.10 774.20,576.10 775.35,576.10 776.51,576.10 777.67,576.10 778.82,576.10 779.98,576.10 781.13,576.10 782.29,576.10 783.45,576.10 784.60,576.10 785.76,576.10 786.92,576.10 788.07,576.10 789.23,576.10 790.38,576.10 791.54,576.10 792.70,576.10 793.85,576.10 795.01,576.10 796.16,576.10 797.32,576.10 798.48,576.10 799.63,576.10 800.79,576.10 801.95,576.10 803.10,576.10 804.26,576.10 805.41,576.10 806.57,576.10 807.73,576.10 808.88,576.10 810.04,576.10 811.19,576.10 812.35,576.10 813.51,576.10 814.66,576.10 815.82,576.10 816.98,576.10 818.13,576.10 819.29,576.10 820.44,576.10 821.60,576.10" fill="none" stroke="#f00" stroke-width="2.9"/>
<rect x="588.05" y="232.05" width="224.9000000000001" height="45.599999999999966" fill="#fff" stroke="#000" stroke-width="1.7"/>
<circle cx="599.9" cy="243.9" r="3.4" fill="none" stroke="#00f" stroke-width="0.75"/>
<path d="M590.9 265.9H609.8" stroke="#f00" stroke-width="2.9"/>
<rect x="588.05" y="439.3" width="224.9000000000001" height="45.39999999999998" fill="#fff" stroke="#000" stroke-width="1.7"/>
<circle cx="599.9" cy="451.2" r="3.4" fill="none" stroke="#00f" stroke-width="0.75"/>
<path d="M590.9 473.0H609.8" stroke="#f00" stroke-width="2.9"/>
<text x="0" y="0" font-family='"Liberation Serif", "Times New Roman", serif' font-size="29.5" text-anchor="middle" transform="translate(108.0 25.8) scale(1 1.045)">1</text>
<text x="0" y="0" font-family='"Liberation Serif", "Times New Roman", serif' font-size="29.5" transform="translate(72.2 99.3) scale(1 1.045)">0.9</text>
<text x="0" y="0" font-family='"Liberation Serif", "Times New Roman", serif' font-size="29.5" transform="translate(72.2 171.4) scale(1 1.045)">0.8</text>
<text x="0" y="0" font-family='"Liberation Serif", "Times New Roman", serif' font-size="29.5" transform="translate(72.2 234.3) scale(1 1.045)">0.2</text>
<text x="0" y="0" font-family='"Liberation Serif", "Times New Roman", serif' font-size="29.5" transform="translate(72.2 306.4) scale(1 1.045)">0.1</text>
<text x="0" y="0" font-family='"Liberation Serif", "Times New Roman", serif' font-size="29.5" text-anchor="middle" transform="translate(108.5 378.2) scale(1 1.045)">0</text>
<text x="0" y="0" font-family='"Liberation Serif", "Times New Roman", serif' font-size="29.5" transform="translate(53.8 466.2) scale(1 1.045)">0.01</text>
<text x="0" y="0" font-family='"Liberation Serif", "Times New Roman", serif' font-size="29.5" transform="translate(35.3 526.4) scale(1 1.045)">0.005</text>
<text x="0" y="0" font-family='"Liberation Serif", "Times New Roman", serif' font-size="29.5" text-anchor="middle" transform="translate(108.5 586.1) scale(1 1.045)">0</text>
<text x="0" y="0" font-family='"Liberation Serif", "Times New Roman", serif' font-size="29.5" text-anchor="middle" transform="translate(125.65 195.5) scale(1 1.045)">0</text>
<text x="0" y="0" font-family='"Liberation Serif", "Times New Roman", serif' font-size="29.5" text-anchor="middle" transform="translate(237.6 195.5) scale(1 1.045)">0.5</text>
<text x="0" y="0" font-family='"Liberation Serif", "Times New Roman", serif' font-size="29.5" text-anchor="middle" transform="translate(356.45 195.5) scale(1 1.045)">1</text>
<text x="0" y="0" font-family='"Liberation Serif", "Times New Roman", serif' font-size="29.5" text-anchor="middle" transform="translate(469.5 195.5) scale(1 1.045)">1.5</text>
<text x="0" y="0" font-family='"Liberation Serif", "Times New Roman", serif' font-size="29.5" text-anchor="middle" transform="translate(588.2 195.5) scale(1 1.045)">2</text>
<text x="0" y="0" font-family='"Liberation Serif", "Times New Roman", serif' font-size="29.5" text-anchor="middle" transform="translate(700.15 195.5) scale(1 1.045)">2.5</text>
<text x="0" y="0" font-family='"Liberation Serif", "Times New Roman", serif' font-size="29.5" text-anchor="middle" transform="translate(818.9 195.5) scale(1 1.045)">3</text>
<text x="0" y="0" font-family='"Liberation Serif", "Times New Roman", serif' font-size="29.5" text-anchor="middle" transform="translate(125.65 402.5) scale(1 1.045)">0</text>
<text x="0" y="0" font-family='"Liberation Serif", "Times New Roman", serif' font-size="29.5" text-anchor="middle" transform="translate(237.6 402.5) scale(1 1.045)">0.5</text>
<text x="0" y="0" font-family='"Liberation Serif", "Times New Roman", serif' font-size="29.5" text-anchor="middle" transform="translate(356.45 402.5) scale(1 1.045)">1</text>
<text x="0" y="0" font-family='"Liberation Serif", "Times New Roman", serif' font-size="29.5" text-anchor="middle" transform="translate(469.5 402.5) scale(1 1.045)">1.5</text>
<text x="0" y="0" font-family='"Liberation Serif", "Times New Roman", serif' font-size="29.5" text-anchor="middle" transform="translate(588.2 402.5) scale(1 1.045)">2</text>
<text x="0" y="0" font-family='"Liberation Serif", "Times New Roman", serif' font-size="29.5" text-anchor="middle" transform="translate(700.15 402.5) scale(1 1.045)">2.5</text>
<text x="0" y="0" font-family='"Liberation Serif", "Times New Roman", serif' font-size="29.5" text-anchor="middle" transform="translate(818.9 402.5) scale(1 1.045)">3</text>
<text x="0" y="0" font-family='"Liberation Serif", "Times New Roman", serif' font-size="29.5" text-anchor="middle" transform="translate(125.65 610.6) scale(1 1.045)">0</text>
<text x="0" y="0" font-family='"Liberation Serif", "Times New Roman", serif' font-size="29.5" text-anchor="middle" transform="translate(237.6 610.6) scale(1 1.045)">0.5</text>
<text x="0" y="0" font-family='"Liberation Serif", "Times New Roman", serif' font-size="29.5" text-anchor="middle" transform="translate(356.45 610.6) scale(1 1.045)">1</text>
<text x="0" y="0" font-family='"Liberation Serif", "Times New Roman", serif' font-size="29.5" text-anchor="middle" transform="translate(469.5 610.6) scale(1 1.045)">1.5</text>
<text x="0" y="0" font-family='"Liberation Serif", "Times New Roman", serif' font-size="29.5" text-anchor="middle" transform="translate(588.2 610.6) scale(1 1.045)">2</text>
<text x="0" y="0" font-family='"Liberation Serif", "Times New Roman", serif' font-size="29.5" text-anchor="middle" transform="translate(700.15 610.6) scale(1 1.045)">2.5</text>
<text x="0" y="0" font-family='"Liberation Serif", "Times New Roman", serif' font-size="29.5" text-anchor="middle" transform="translate(818.9 610.6) scale(1 1.045)">3</text>
<text x="215.65" y="75.6" font-family='"Liberation Serif", "Times New Roman", serif' font-size="29.0" font-weight="bold">(a)</text>
<text x="214.55" y="275.6" font-family='"Liberation Serif", "Times New Roman", serif' font-size="29.0" font-weight="bold">(b)</text>
<text x="209.25" y="480.6" font-family='"Liberation Serif", "Times New Roman", serif' font-size="29.0" font-weight="bold">(c)</text>
<text x="612.2" y="250.2" font-family='"Liberation Serif", "Times New Roman", serif' font-size="17.7">numerical simulations</text>
<text x="612.0" y="271.6" font-family='"Liberation Serif", "Times New Roman", serif' font-size="17.7">pertubation theory</text>
<text x="612.2" y="457.2" font-family='"Liberation Serif", "Times New Roman", serif' font-size="17.7">numerical simulations</text>
<text x="612.0" y="478.5" font-family='"Liberation Serif", "Times New Roman", serif' font-size="17.7">pertubation theory</text>
<text x="0" y="0" font-family='"Liberation Serif", "Times New Roman", serif' font-size="31.4" transform="translate(436.0 646.2) scale(1.19 1)">Δ</text>
<text x="461.8" y="646.2" font-family='"Liberation Serif", "Times New Roman", serif' font-size="28.5">, ps</text>
<text x="0" y="0" font-family='"Liberation Serif", "Times New Roman", serif' font-size="28" transform="translate(50.6 107.7) rotate(-90)"><tspan font-style="italic">ρ</tspan><tspan font-size="22.3" dy="13.1">11</tspan></text>
<text x="0" y="0" font-family='"Liberation Serif", "Times New Roman", serif' font-size="28" transform="translate(50.6 316.2) rotate(-90)"><tspan font-style="italic">ρ</tspan><tspan font-size="22.3" dy="13.1">22</tspan></text>
<text x="0" y="0" font-family='"Liberation Serif", "Times New Roman", serif' font-size="28" transform="translate(13.5 524.6) rotate(-90)"><tspan font-style="italic">ρ</tspan><tspan font-size="22.3" dy="13.1">33</tspan></text>
</svg></body></html>
